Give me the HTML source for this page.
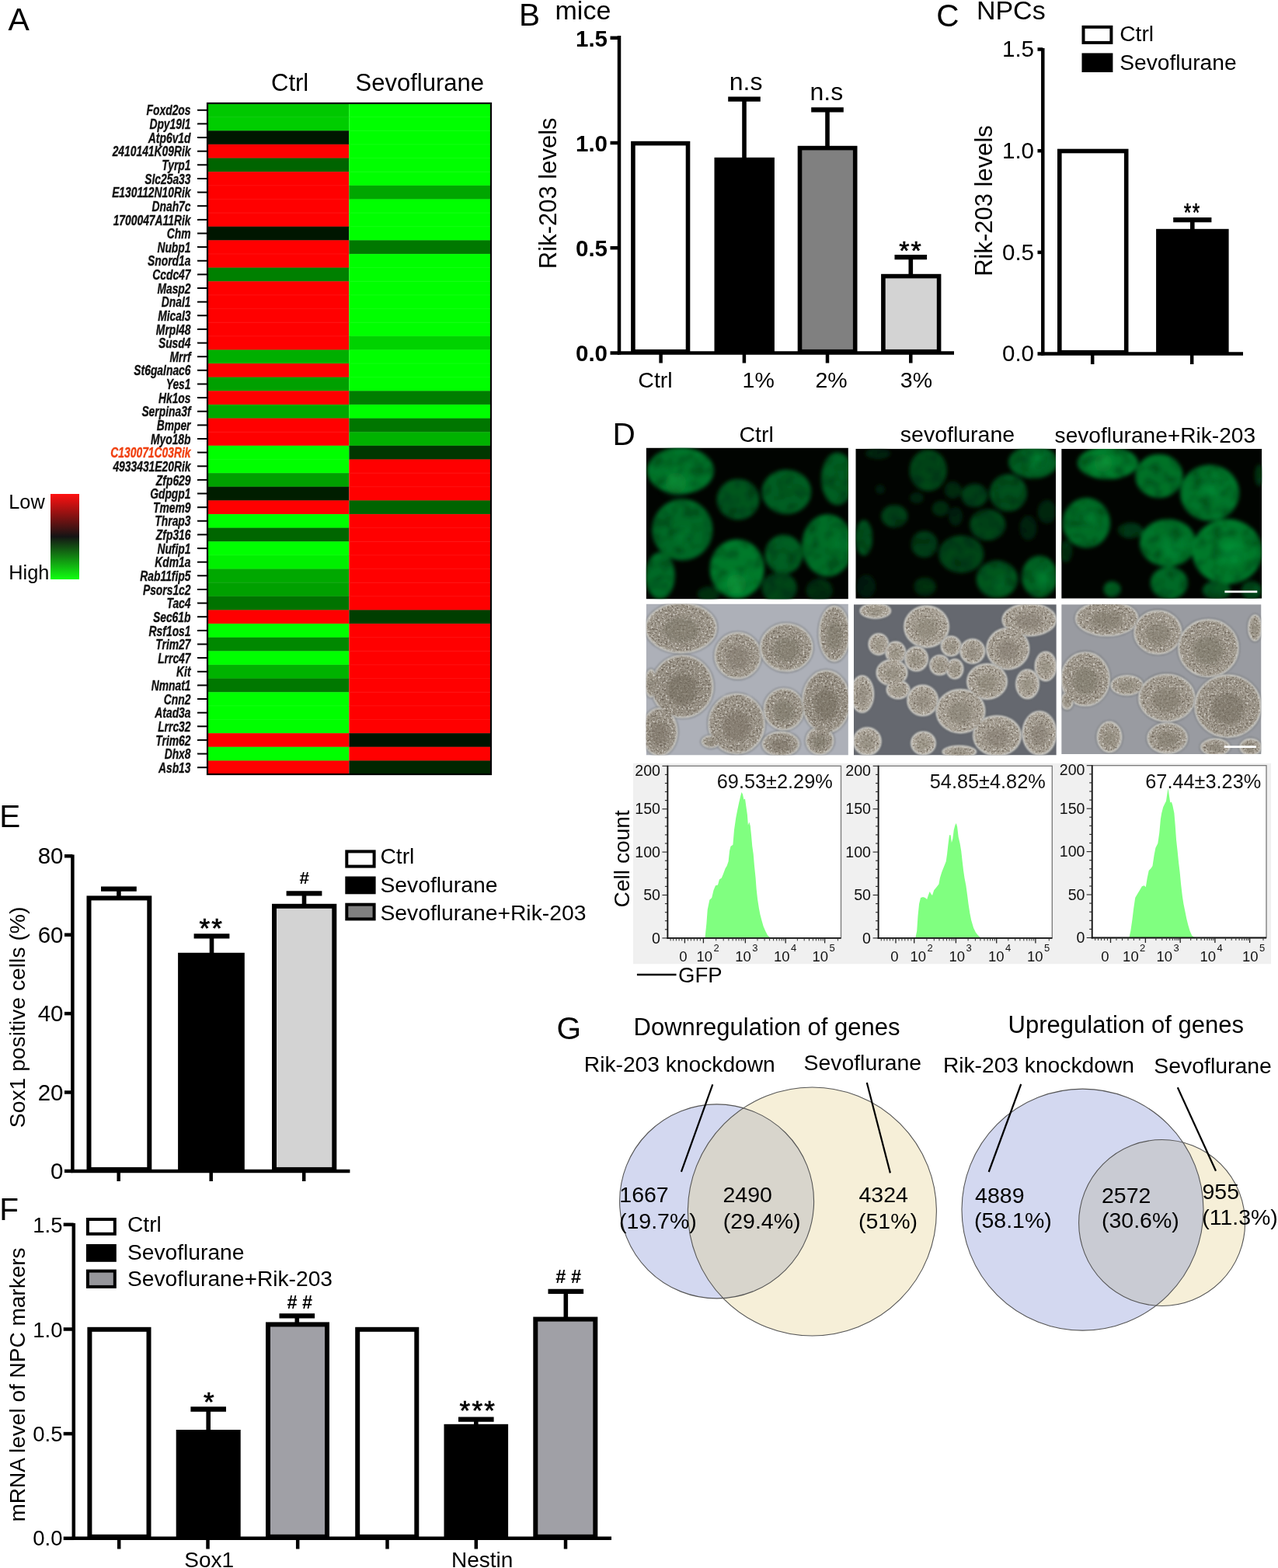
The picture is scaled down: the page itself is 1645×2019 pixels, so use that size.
<!DOCTYPE html>
<html><head><meta charset="utf-8"><title>Figure</title><style>html,body{margin:0;padding:0;background:#fff;}svg{display:block;}</style></head><body>
<svg width="1645" height="2019" viewBox="0 0 1645 2019" font-family='"Liberation Sans", Arial, sans-serif'>
<rect x="0.0" y="0.0" width="1645.0" height="2019.0" fill="#fff" stroke="none" stroke-width="0" />
<text x="10.5" y="38.7" font-size="41" text-anchor="start" font-weight="normal" font-style="normal" fill="#000" >A</text>
<text x="349.0" y="117.0" font-size="31" text-anchor="start" font-weight="normal" font-style="normal" fill="#000" >Ctrl</text>
<text x="457.5" y="117.0" font-size="31" text-anchor="start" font-weight="normal" font-style="normal" fill="#000" >Sevoflurane</text>
<rect x="267.0" y="133.00" width="182.30" height="18.23" fill="rgb(0,200,0)"/>
<rect x="449.3" y="133.00" width="182.70" height="18.23" fill="#00ff00"/>
<rect x="267.0" y="150.63" width="182.30" height="18.23" fill="rgb(0,205,0)"/>
<rect x="449.3" y="150.63" width="182.70" height="18.23" fill="#00ff00"/>
<rect x="267.0" y="168.27" width="182.30" height="18.23" fill="rgb(0,22,0)"/>
<rect x="449.3" y="168.27" width="182.70" height="18.23" fill="#00ff00"/>
<rect x="267.0" y="185.90" width="182.30" height="18.23" fill="#ff0000"/>
<rect x="449.3" y="185.90" width="182.70" height="18.23" fill="#00ff00"/>
<rect x="267.0" y="203.53" width="182.30" height="18.23" fill="rgb(0,100,0)"/>
<rect x="449.3" y="203.53" width="182.70" height="18.23" fill="#00ff00"/>
<rect x="267.0" y="221.16" width="182.30" height="18.23" fill="#ff0000"/>
<rect x="449.3" y="221.16" width="182.70" height="18.23" fill="#00ff00"/>
<rect x="267.0" y="238.80" width="182.30" height="18.23" fill="#ff0000"/>
<rect x="449.3" y="238.80" width="182.70" height="18.23" fill="rgb(0,166,0)"/>
<rect x="267.0" y="256.43" width="182.30" height="18.23" fill="#ff0000"/>
<rect x="449.3" y="256.43" width="182.70" height="18.23" fill="#00ff00"/>
<rect x="267.0" y="274.06" width="182.30" height="18.23" fill="#ff0000"/>
<rect x="449.3" y="274.06" width="182.70" height="18.23" fill="#00ff00"/>
<rect x="267.0" y="291.69" width="182.30" height="18.23" fill="rgb(0,22,0)"/>
<rect x="449.3" y="291.69" width="182.70" height="18.23" fill="#00ff00"/>
<rect x="267.0" y="309.33" width="182.30" height="18.23" fill="#ff0000"/>
<rect x="449.3" y="309.33" width="182.70" height="18.23" fill="rgb(0,120,0)"/>
<rect x="267.0" y="326.96" width="182.30" height="18.23" fill="#ff0000"/>
<rect x="449.3" y="326.96" width="182.70" height="18.23" fill="#00ff00"/>
<rect x="267.0" y="344.59" width="182.30" height="18.23" fill="rgb(0,128,0)"/>
<rect x="449.3" y="344.59" width="182.70" height="18.23" fill="#00ff00"/>
<rect x="267.0" y="362.22" width="182.30" height="18.23" fill="#ff0000"/>
<rect x="449.3" y="362.22" width="182.70" height="18.23" fill="#00ff00"/>
<rect x="267.0" y="379.86" width="182.30" height="18.23" fill="#ff0000"/>
<rect x="449.3" y="379.86" width="182.70" height="18.23" fill="#00ff00"/>
<rect x="267.0" y="397.49" width="182.30" height="18.23" fill="#ff0000"/>
<rect x="449.3" y="397.49" width="182.70" height="18.23" fill="#00ff00"/>
<rect x="267.0" y="415.12" width="182.30" height="18.23" fill="#ff0000"/>
<rect x="449.3" y="415.12" width="182.70" height="18.23" fill="#00ff00"/>
<rect x="267.0" y="432.76" width="182.30" height="18.23" fill="#ff0000"/>
<rect x="449.3" y="432.76" width="182.70" height="18.23" fill="rgb(0,210,0)"/>
<rect x="267.0" y="450.39" width="182.30" height="18.23" fill="rgb(0,175,0)"/>
<rect x="449.3" y="450.39" width="182.70" height="18.23" fill="#00ff00"/>
<rect x="267.0" y="468.02" width="182.30" height="18.23" fill="#ff0000"/>
<rect x="449.3" y="468.02" width="182.70" height="18.23" fill="#00ff00"/>
<rect x="267.0" y="485.65" width="182.30" height="18.23" fill="rgb(0,160,0)"/>
<rect x="449.3" y="485.65" width="182.70" height="18.23" fill="#00ff00"/>
<rect x="267.0" y="503.29" width="182.30" height="18.23" fill="#ff0000"/>
<rect x="449.3" y="503.29" width="182.70" height="18.23" fill="rgb(0,125,0)"/>
<rect x="267.0" y="520.92" width="182.30" height="18.23" fill="rgb(0,168,0)"/>
<rect x="449.3" y="520.92" width="182.70" height="18.23" fill="#00ff00"/>
<rect x="267.0" y="538.55" width="182.30" height="18.23" fill="#ff0000"/>
<rect x="449.3" y="538.55" width="182.70" height="18.23" fill="rgb(0,118,0)"/>
<rect x="267.0" y="556.18" width="182.30" height="18.23" fill="#ff0000"/>
<rect x="449.3" y="556.18" width="182.70" height="18.23" fill="rgb(0,178,0)"/>
<rect x="267.0" y="573.82" width="182.30" height="18.23" fill="#00ff00"/>
<rect x="449.3" y="573.82" width="182.70" height="18.23" fill="rgb(0,55,0)"/>
<rect x="267.0" y="591.45" width="182.30" height="18.23" fill="#00ff00"/>
<rect x="449.3" y="591.45" width="182.70" height="18.23" fill="#ff0000"/>
<rect x="267.0" y="609.08" width="182.30" height="18.23" fill="rgb(0,160,0)"/>
<rect x="449.3" y="609.08" width="182.70" height="18.23" fill="#ff0000"/>
<rect x="267.0" y="626.71" width="182.30" height="18.23" fill="rgb(0,30,0)"/>
<rect x="449.3" y="626.71" width="182.70" height="18.23" fill="#ff0000"/>
<rect x="267.0" y="644.35" width="182.30" height="18.23" fill="#ff0000"/>
<rect x="449.3" y="644.35" width="182.70" height="18.23" fill="rgb(0,100,0)"/>
<rect x="267.0" y="661.98" width="182.30" height="18.23" fill="#00ff00"/>
<rect x="449.3" y="661.98" width="182.70" height="18.23" fill="#ff0000"/>
<rect x="267.0" y="679.61" width="182.30" height="18.23" fill="rgb(0,102,0)"/>
<rect x="449.3" y="679.61" width="182.70" height="18.23" fill="#ff0000"/>
<rect x="267.0" y="697.24" width="182.30" height="18.23" fill="#00ff00"/>
<rect x="449.3" y="697.24" width="182.70" height="18.23" fill="#ff0000"/>
<rect x="267.0" y="714.88" width="182.30" height="18.23" fill="rgb(0,240,0)"/>
<rect x="449.3" y="714.88" width="182.70" height="18.23" fill="#ff0000"/>
<rect x="267.0" y="732.51" width="182.30" height="18.23" fill="rgb(0,168,0)"/>
<rect x="449.3" y="732.51" width="182.70" height="18.23" fill="#ff0000"/>
<rect x="267.0" y="750.14" width="182.30" height="18.23" fill="rgb(0,160,0)"/>
<rect x="449.3" y="750.14" width="182.70" height="18.23" fill="#ff0000"/>
<rect x="267.0" y="767.78" width="182.30" height="18.23" fill="rgb(0,115,0)"/>
<rect x="449.3" y="767.78" width="182.70" height="18.23" fill="#ff0000"/>
<rect x="267.0" y="785.41" width="182.30" height="18.23" fill="#ff0000"/>
<rect x="449.3" y="785.41" width="182.70" height="18.23" fill="rgb(0,62,0)"/>
<rect x="267.0" y="803.04" width="182.30" height="18.23" fill="#00ff00"/>
<rect x="449.3" y="803.04" width="182.70" height="18.23" fill="#ff0000"/>
<rect x="267.0" y="820.67" width="182.30" height="18.23" fill="rgb(0,136,0)"/>
<rect x="449.3" y="820.67" width="182.70" height="18.23" fill="#ff0000"/>
<rect x="267.0" y="838.31" width="182.30" height="18.23" fill="#00ff00"/>
<rect x="449.3" y="838.31" width="182.70" height="18.23" fill="#ff0000"/>
<rect x="267.0" y="855.94" width="182.30" height="18.23" fill="rgb(0,178,0)"/>
<rect x="449.3" y="855.94" width="182.70" height="18.23" fill="#ff0000"/>
<rect x="267.0" y="873.57" width="182.30" height="18.23" fill="rgb(0,120,0)"/>
<rect x="449.3" y="873.57" width="182.70" height="18.23" fill="#ff0000"/>
<rect x="267.0" y="891.20" width="182.30" height="18.23" fill="#00ff00"/>
<rect x="449.3" y="891.20" width="182.70" height="18.23" fill="#ff0000"/>
<rect x="267.0" y="908.84" width="182.30" height="18.23" fill="#00ff00"/>
<rect x="449.3" y="908.84" width="182.70" height="18.23" fill="#ff0000"/>
<rect x="267.0" y="926.47" width="182.30" height="18.23" fill="#00ff00"/>
<rect x="449.3" y="926.47" width="182.70" height="18.23" fill="#ff0000"/>
<rect x="267.0" y="944.10" width="182.30" height="18.23" fill="#ff0000"/>
<rect x="449.3" y="944.10" width="182.70" height="18.23" fill="rgb(0,20,0)"/>
<rect x="267.0" y="961.73" width="182.30" height="18.23" fill="#00ff00"/>
<rect x="449.3" y="961.73" width="182.70" height="18.23" fill="#ff0000"/>
<rect x="267.0" y="979.37" width="182.30" height="18.23" fill="#ff0000"/>
<rect x="449.3" y="979.37" width="182.70" height="18.23" fill="rgb(0,38,0)"/>
<line x1="267.0" y1="150.63" x2="632.0" y2="150.63" stroke="#fff" stroke-opacity="0.07" stroke-width="1"/>
<line x1="267.0" y1="168.27" x2="632.0" y2="168.27" stroke="#fff" stroke-opacity="0.07" stroke-width="1"/>
<line x1="267.0" y1="185.90" x2="632.0" y2="185.90" stroke="#fff" stroke-opacity="0.07" stroke-width="1"/>
<line x1="267.0" y1="203.53" x2="632.0" y2="203.53" stroke="#fff" stroke-opacity="0.07" stroke-width="1"/>
<line x1="267.0" y1="221.16" x2="632.0" y2="221.16" stroke="#fff" stroke-opacity="0.07" stroke-width="1"/>
<line x1="267.0" y1="238.80" x2="632.0" y2="238.80" stroke="#fff" stroke-opacity="0.07" stroke-width="1"/>
<line x1="267.0" y1="256.43" x2="632.0" y2="256.43" stroke="#fff" stroke-opacity="0.07" stroke-width="1"/>
<line x1="267.0" y1="274.06" x2="632.0" y2="274.06" stroke="#fff" stroke-opacity="0.07" stroke-width="1"/>
<line x1="267.0" y1="291.69" x2="632.0" y2="291.69" stroke="#fff" stroke-opacity="0.07" stroke-width="1"/>
<line x1="267.0" y1="309.33" x2="632.0" y2="309.33" stroke="#fff" stroke-opacity="0.07" stroke-width="1"/>
<line x1="267.0" y1="326.96" x2="632.0" y2="326.96" stroke="#fff" stroke-opacity="0.07" stroke-width="1"/>
<line x1="267.0" y1="344.59" x2="632.0" y2="344.59" stroke="#fff" stroke-opacity="0.07" stroke-width="1"/>
<line x1="267.0" y1="362.22" x2="632.0" y2="362.22" stroke="#fff" stroke-opacity="0.07" stroke-width="1"/>
<line x1="267.0" y1="379.86" x2="632.0" y2="379.86" stroke="#fff" stroke-opacity="0.07" stroke-width="1"/>
<line x1="267.0" y1="397.49" x2="632.0" y2="397.49" stroke="#fff" stroke-opacity="0.07" stroke-width="1"/>
<line x1="267.0" y1="415.12" x2="632.0" y2="415.12" stroke="#fff" stroke-opacity="0.07" stroke-width="1"/>
<line x1="267.0" y1="432.76" x2="632.0" y2="432.76" stroke="#fff" stroke-opacity="0.07" stroke-width="1"/>
<line x1="267.0" y1="450.39" x2="632.0" y2="450.39" stroke="#fff" stroke-opacity="0.07" stroke-width="1"/>
<line x1="267.0" y1="468.02" x2="632.0" y2="468.02" stroke="#fff" stroke-opacity="0.07" stroke-width="1"/>
<line x1="267.0" y1="485.65" x2="632.0" y2="485.65" stroke="#fff" stroke-opacity="0.07" stroke-width="1"/>
<line x1="267.0" y1="503.29" x2="632.0" y2="503.29" stroke="#fff" stroke-opacity="0.07" stroke-width="1"/>
<line x1="267.0" y1="520.92" x2="632.0" y2="520.92" stroke="#fff" stroke-opacity="0.07" stroke-width="1"/>
<line x1="267.0" y1="538.55" x2="632.0" y2="538.55" stroke="#fff" stroke-opacity="0.07" stroke-width="1"/>
<line x1="267.0" y1="556.18" x2="632.0" y2="556.18" stroke="#fff" stroke-opacity="0.07" stroke-width="1"/>
<line x1="267.0" y1="573.82" x2="632.0" y2="573.82" stroke="#fff" stroke-opacity="0.07" stroke-width="1"/>
<line x1="267.0" y1="591.45" x2="632.0" y2="591.45" stroke="#fff" stroke-opacity="0.07" stroke-width="1"/>
<line x1="267.0" y1="609.08" x2="632.0" y2="609.08" stroke="#fff" stroke-opacity="0.07" stroke-width="1"/>
<line x1="267.0" y1="626.71" x2="632.0" y2="626.71" stroke="#fff" stroke-opacity="0.07" stroke-width="1"/>
<line x1="267.0" y1="644.35" x2="632.0" y2="644.35" stroke="#fff" stroke-opacity="0.07" stroke-width="1"/>
<line x1="267.0" y1="661.98" x2="632.0" y2="661.98" stroke="#fff" stroke-opacity="0.07" stroke-width="1"/>
<line x1="267.0" y1="679.61" x2="632.0" y2="679.61" stroke="#fff" stroke-opacity="0.07" stroke-width="1"/>
<line x1="267.0" y1="697.24" x2="632.0" y2="697.24" stroke="#fff" stroke-opacity="0.07" stroke-width="1"/>
<line x1="267.0" y1="714.88" x2="632.0" y2="714.88" stroke="#fff" stroke-opacity="0.07" stroke-width="1"/>
<line x1="267.0" y1="732.51" x2="632.0" y2="732.51" stroke="#fff" stroke-opacity="0.07" stroke-width="1"/>
<line x1="267.0" y1="750.14" x2="632.0" y2="750.14" stroke="#fff" stroke-opacity="0.07" stroke-width="1"/>
<line x1="267.0" y1="767.78" x2="632.0" y2="767.78" stroke="#fff" stroke-opacity="0.07" stroke-width="1"/>
<line x1="267.0" y1="785.41" x2="632.0" y2="785.41" stroke="#fff" stroke-opacity="0.07" stroke-width="1"/>
<line x1="267.0" y1="803.04" x2="632.0" y2="803.04" stroke="#fff" stroke-opacity="0.07" stroke-width="1"/>
<line x1="267.0" y1="820.67" x2="632.0" y2="820.67" stroke="#fff" stroke-opacity="0.07" stroke-width="1"/>
<line x1="267.0" y1="838.31" x2="632.0" y2="838.31" stroke="#fff" stroke-opacity="0.07" stroke-width="1"/>
<line x1="267.0" y1="855.94" x2="632.0" y2="855.94" stroke="#fff" stroke-opacity="0.07" stroke-width="1"/>
<line x1="267.0" y1="873.57" x2="632.0" y2="873.57" stroke="#fff" stroke-opacity="0.07" stroke-width="1"/>
<line x1="267.0" y1="891.20" x2="632.0" y2="891.20" stroke="#fff" stroke-opacity="0.07" stroke-width="1"/>
<line x1="267.0" y1="908.84" x2="632.0" y2="908.84" stroke="#fff" stroke-opacity="0.07" stroke-width="1"/>
<line x1="267.0" y1="926.47" x2="632.0" y2="926.47" stroke="#fff" stroke-opacity="0.07" stroke-width="1"/>
<line x1="267.0" y1="944.10" x2="632.0" y2="944.10" stroke="#fff" stroke-opacity="0.07" stroke-width="1"/>
<line x1="267.0" y1="961.73" x2="632.0" y2="961.73" stroke="#fff" stroke-opacity="0.07" stroke-width="1"/>
<line x1="267.0" y1="979.37" x2="632.0" y2="979.37" stroke="#fff" stroke-opacity="0.07" stroke-width="1"/>
<rect x="267.0" y="133.0" width="365.0" height="864.0" fill="none" stroke="#000" stroke-width="2.2" />
<g font-weight="bold" font-style="italic">
<line x1="254.0" y1="141.8" x2="266.0" y2="141.8" stroke="#000" stroke-width="2" />
<text transform="translate(245.5,148.4) scale(0.745,1)" font-size="18.6" text-anchor="end" fill="#111" stroke="#111" stroke-width="0.35">Foxd2os</text>
<line x1="254.0" y1="159.4" x2="266.0" y2="159.4" stroke="#000" stroke-width="2" />
<text transform="translate(245.5,166.0) scale(0.745,1)" font-size="18.6" text-anchor="end" fill="#111" stroke="#111" stroke-width="0.35">Dpy19l1</text>
<line x1="254.0" y1="177.1" x2="266.0" y2="177.1" stroke="#000" stroke-width="2" />
<text transform="translate(245.5,183.7) scale(0.745,1)" font-size="18.6" text-anchor="end" fill="#111" stroke="#111" stroke-width="0.35">Atp6v1d</text>
<line x1="254.0" y1="194.7" x2="266.0" y2="194.7" stroke="#000" stroke-width="2" />
<text transform="translate(245.5,201.3) scale(0.745,1)" font-size="18.6" text-anchor="end" fill="#111" stroke="#111" stroke-width="0.35">2410141K09Rik</text>
<line x1="254.0" y1="212.3" x2="266.0" y2="212.3" stroke="#000" stroke-width="2" />
<text transform="translate(245.5,218.9) scale(0.745,1)" font-size="18.6" text-anchor="end" fill="#111" stroke="#111" stroke-width="0.35">Tyrp1</text>
<line x1="254.0" y1="230.0" x2="266.0" y2="230.0" stroke="#000" stroke-width="2" />
<text transform="translate(245.5,236.6) scale(0.745,1)" font-size="18.6" text-anchor="end" fill="#111" stroke="#111" stroke-width="0.35">Slc25a33</text>
<line x1="254.0" y1="247.6" x2="266.0" y2="247.6" stroke="#000" stroke-width="2" />
<text transform="translate(245.5,254.2) scale(0.745,1)" font-size="18.6" text-anchor="end" fill="#111" stroke="#111" stroke-width="0.35">E130112N10Rik</text>
<line x1="254.0" y1="265.2" x2="266.0" y2="265.2" stroke="#000" stroke-width="2" />
<text transform="translate(245.5,271.8) scale(0.745,1)" font-size="18.6" text-anchor="end" fill="#111" stroke="#111" stroke-width="0.35">Dnah7c</text>
<line x1="254.0" y1="282.9" x2="266.0" y2="282.9" stroke="#000" stroke-width="2" />
<text transform="translate(245.5,289.5) scale(0.745,1)" font-size="18.6" text-anchor="end" fill="#111" stroke="#111" stroke-width="0.35">1700047A11Rik</text>
<line x1="254.0" y1="300.5" x2="266.0" y2="300.5" stroke="#000" stroke-width="2" />
<text transform="translate(245.5,307.1) scale(0.745,1)" font-size="18.6" text-anchor="end" fill="#111" stroke="#111" stroke-width="0.35">Chm</text>
<line x1="254.0" y1="318.1" x2="266.0" y2="318.1" stroke="#000" stroke-width="2" />
<text transform="translate(245.5,324.7) scale(0.745,1)" font-size="18.6" text-anchor="end" fill="#111" stroke="#111" stroke-width="0.35">Nubp1</text>
<line x1="254.0" y1="335.8" x2="266.0" y2="335.8" stroke="#000" stroke-width="2" />
<text transform="translate(245.5,342.4) scale(0.745,1)" font-size="18.6" text-anchor="end" fill="#111" stroke="#111" stroke-width="0.35">Snord1a</text>
<line x1="254.0" y1="353.4" x2="266.0" y2="353.4" stroke="#000" stroke-width="2" />
<text transform="translate(245.5,360.0) scale(0.745,1)" font-size="18.6" text-anchor="end" fill="#111" stroke="#111" stroke-width="0.35">Ccdc47</text>
<line x1="254.0" y1="371.0" x2="266.0" y2="371.0" stroke="#000" stroke-width="2" />
<text transform="translate(245.5,377.6) scale(0.745,1)" font-size="18.6" text-anchor="end" fill="#111" stroke="#111" stroke-width="0.35">Masp2</text>
<line x1="254.0" y1="388.7" x2="266.0" y2="388.7" stroke="#000" stroke-width="2" />
<text transform="translate(245.5,395.3) scale(0.745,1)" font-size="18.6" text-anchor="end" fill="#111" stroke="#111" stroke-width="0.35">Dnal1</text>
<line x1="254.0" y1="406.3" x2="266.0" y2="406.3" stroke="#000" stroke-width="2" />
<text transform="translate(245.5,412.9) scale(0.745,1)" font-size="18.6" text-anchor="end" fill="#111" stroke="#111" stroke-width="0.35">Mical3</text>
<line x1="254.0" y1="423.9" x2="266.0" y2="423.9" stroke="#000" stroke-width="2" />
<text transform="translate(245.5,430.5) scale(0.745,1)" font-size="18.6" text-anchor="end" fill="#111" stroke="#111" stroke-width="0.35">Mrpl48</text>
<line x1="254.0" y1="441.6" x2="266.0" y2="441.6" stroke="#000" stroke-width="2" />
<text transform="translate(245.5,448.2) scale(0.745,1)" font-size="18.6" text-anchor="end" fill="#111" stroke="#111" stroke-width="0.35">Susd4</text>
<line x1="254.0" y1="459.2" x2="266.0" y2="459.2" stroke="#000" stroke-width="2" />
<text transform="translate(245.5,465.8) scale(0.745,1)" font-size="18.6" text-anchor="end" fill="#111" stroke="#111" stroke-width="0.35">Mrrf</text>
<line x1="254.0" y1="476.8" x2="266.0" y2="476.8" stroke="#000" stroke-width="2" />
<text transform="translate(245.5,483.4) scale(0.745,1)" font-size="18.6" text-anchor="end" fill="#111" stroke="#111" stroke-width="0.35">St6galnac6</text>
<line x1="254.0" y1="494.5" x2="266.0" y2="494.5" stroke="#000" stroke-width="2" />
<text transform="translate(245.5,501.1) scale(0.745,1)" font-size="18.6" text-anchor="end" fill="#111" stroke="#111" stroke-width="0.35">Yes1</text>
<line x1="254.0" y1="512.1" x2="266.0" y2="512.1" stroke="#000" stroke-width="2" />
<text transform="translate(245.5,518.7) scale(0.745,1)" font-size="18.6" text-anchor="end" fill="#111" stroke="#111" stroke-width="0.35">Hk1os</text>
<line x1="254.0" y1="529.7" x2="266.0" y2="529.7" stroke="#000" stroke-width="2" />
<text transform="translate(245.5,536.3) scale(0.745,1)" font-size="18.6" text-anchor="end" fill="#111" stroke="#111" stroke-width="0.35">Serpina3f</text>
<line x1="254.0" y1="547.4" x2="266.0" y2="547.4" stroke="#000" stroke-width="2" />
<text transform="translate(245.5,554.0) scale(0.745,1)" font-size="18.6" text-anchor="end" fill="#111" stroke="#111" stroke-width="0.35">Bmper</text>
<line x1="254.0" y1="565.0" x2="266.0" y2="565.0" stroke="#000" stroke-width="2" />
<text transform="translate(245.5,571.6) scale(0.745,1)" font-size="18.6" text-anchor="end" fill="#111" stroke="#111" stroke-width="0.35">Myo18b</text>
<line x1="254.0" y1="582.6" x2="266.0" y2="582.6" stroke="#000" stroke-width="2" />
<text transform="translate(245.5,589.2) scale(0.745,1)" font-size="18.6" text-anchor="end" fill="#f04010" stroke="#f04010" stroke-width="0.35">C130071C03Rik</text>
<line x1="254.0" y1="600.3" x2="266.0" y2="600.3" stroke="#000" stroke-width="2" />
<text transform="translate(245.5,606.9) scale(0.745,1)" font-size="18.6" text-anchor="end" fill="#111" stroke="#111" stroke-width="0.35">4933431E20Rik</text>
<line x1="254.0" y1="617.9" x2="266.0" y2="617.9" stroke="#000" stroke-width="2" />
<text transform="translate(245.5,624.5) scale(0.745,1)" font-size="18.6" text-anchor="end" fill="#111" stroke="#111" stroke-width="0.35">Zfp629</text>
<line x1="254.0" y1="635.5" x2="266.0" y2="635.5" stroke="#000" stroke-width="2" />
<text transform="translate(245.5,642.1) scale(0.745,1)" font-size="18.6" text-anchor="end" fill="#111" stroke="#111" stroke-width="0.35">Gdpgp1</text>
<line x1="254.0" y1="653.2" x2="266.0" y2="653.2" stroke="#000" stroke-width="2" />
<text transform="translate(245.5,659.8) scale(0.745,1)" font-size="18.6" text-anchor="end" fill="#111" stroke="#111" stroke-width="0.35">Tmem9</text>
<line x1="254.0" y1="670.8" x2="266.0" y2="670.8" stroke="#000" stroke-width="2" />
<text transform="translate(245.5,677.4) scale(0.745,1)" font-size="18.6" text-anchor="end" fill="#111" stroke="#111" stroke-width="0.35">Thrap3</text>
<line x1="254.0" y1="688.4" x2="266.0" y2="688.4" stroke="#000" stroke-width="2" />
<text transform="translate(245.5,695.0) scale(0.745,1)" font-size="18.6" text-anchor="end" fill="#111" stroke="#111" stroke-width="0.35">Zfp316</text>
<line x1="254.0" y1="706.1" x2="266.0" y2="706.1" stroke="#000" stroke-width="2" />
<text transform="translate(245.5,712.7) scale(0.745,1)" font-size="18.6" text-anchor="end" fill="#111" stroke="#111" stroke-width="0.35">Nufip1</text>
<line x1="254.0" y1="723.7" x2="266.0" y2="723.7" stroke="#000" stroke-width="2" />
<text transform="translate(245.5,730.3) scale(0.745,1)" font-size="18.6" text-anchor="end" fill="#111" stroke="#111" stroke-width="0.35">Kdm1a</text>
<line x1="254.0" y1="741.3" x2="266.0" y2="741.3" stroke="#000" stroke-width="2" />
<text transform="translate(245.5,747.9) scale(0.745,1)" font-size="18.6" text-anchor="end" fill="#111" stroke="#111" stroke-width="0.35">Rab11fip5</text>
<line x1="254.0" y1="759.0" x2="266.0" y2="759.0" stroke="#000" stroke-width="2" />
<text transform="translate(245.5,765.6) scale(0.745,1)" font-size="18.6" text-anchor="end" fill="#111" stroke="#111" stroke-width="0.35">Psors1c2</text>
<line x1="254.0" y1="776.6" x2="266.0" y2="776.6" stroke="#000" stroke-width="2" />
<text transform="translate(245.5,783.2) scale(0.745,1)" font-size="18.6" text-anchor="end" fill="#111" stroke="#111" stroke-width="0.35">Tac4</text>
<line x1="254.0" y1="794.2" x2="266.0" y2="794.2" stroke="#000" stroke-width="2" />
<text transform="translate(245.5,800.8) scale(0.745,1)" font-size="18.6" text-anchor="end" fill="#111" stroke="#111" stroke-width="0.35">Sec61b</text>
<line x1="254.0" y1="811.9" x2="266.0" y2="811.9" stroke="#000" stroke-width="2" />
<text transform="translate(245.5,818.5) scale(0.745,1)" font-size="18.6" text-anchor="end" fill="#111" stroke="#111" stroke-width="0.35">Rsf1os1</text>
<line x1="254.0" y1="829.5" x2="266.0" y2="829.5" stroke="#000" stroke-width="2" />
<text transform="translate(245.5,836.1) scale(0.745,1)" font-size="18.6" text-anchor="end" fill="#111" stroke="#111" stroke-width="0.35">Trim27</text>
<line x1="254.0" y1="847.1" x2="266.0" y2="847.1" stroke="#000" stroke-width="2" />
<text transform="translate(245.5,853.7) scale(0.745,1)" font-size="18.6" text-anchor="end" fill="#111" stroke="#111" stroke-width="0.35">Lrrc47</text>
<line x1="254.0" y1="864.8" x2="266.0" y2="864.8" stroke="#000" stroke-width="2" />
<text transform="translate(245.5,871.4) scale(0.745,1)" font-size="18.6" text-anchor="end" fill="#111" stroke="#111" stroke-width="0.35">Kit</text>
<line x1="254.0" y1="882.4" x2="266.0" y2="882.4" stroke="#000" stroke-width="2" />
<text transform="translate(245.5,889.0) scale(0.745,1)" font-size="18.6" text-anchor="end" fill="#111" stroke="#111" stroke-width="0.35">Nmnat1</text>
<line x1="254.0" y1="900.0" x2="266.0" y2="900.0" stroke="#000" stroke-width="2" />
<text transform="translate(245.5,906.6) scale(0.745,1)" font-size="18.6" text-anchor="end" fill="#111" stroke="#111" stroke-width="0.35">Cnn2</text>
<line x1="254.0" y1="917.7" x2="266.0" y2="917.7" stroke="#000" stroke-width="2" />
<text transform="translate(245.5,924.3) scale(0.745,1)" font-size="18.6" text-anchor="end" fill="#111" stroke="#111" stroke-width="0.35">Atad3a</text>
<line x1="254.0" y1="935.3" x2="266.0" y2="935.3" stroke="#000" stroke-width="2" />
<text transform="translate(245.5,941.9) scale(0.745,1)" font-size="18.6" text-anchor="end" fill="#111" stroke="#111" stroke-width="0.35">Lrrc32</text>
<line x1="254.0" y1="952.9" x2="266.0" y2="952.9" stroke="#000" stroke-width="2" />
<text transform="translate(245.5,959.5) scale(0.745,1)" font-size="18.6" text-anchor="end" fill="#111" stroke="#111" stroke-width="0.35">Trim62</text>
<line x1="254.0" y1="970.6" x2="266.0" y2="970.6" stroke="#000" stroke-width="2" />
<text transform="translate(245.5,977.2) scale(0.745,1)" font-size="18.6" text-anchor="end" fill="#111" stroke="#111" stroke-width="0.35">Dhx8</text>
<line x1="254.0" y1="988.2" x2="266.0" y2="988.2" stroke="#000" stroke-width="2" />
<text transform="translate(245.5,994.8) scale(0.745,1)" font-size="18.6" text-anchor="end" fill="#111" stroke="#111" stroke-width="0.35">Asb13</text>
</g>
<defs><linearGradient id="lg" x1="0" y1="0" x2="0" y2="1"><stop offset="0" stop-color="#ff1010"/><stop offset="0.5" stop-color="#141414"/><stop offset="1" stop-color="#10ff10"/></linearGradient></defs>
<rect x="65.0" y="636.0" width="37.0" height="110.0" fill="url(#lg)" stroke="none" stroke-width="0" />
<text x="11.3" y="654.6" font-size="25.3" text-anchor="start" font-weight="normal" font-style="normal" fill="#000" >Low</text>
<text x="11.3" y="745.8" font-size="25.3" text-anchor="start" font-weight="normal" font-style="normal" fill="#000" >High</text>
<text x="668.0" y="32.9" font-size="40.5" text-anchor="start" font-weight="normal" font-style="normal" fill="#000" >B</text>
<text x="714.5" y="24.8" font-size="34" text-anchor="start" font-weight="normal" font-style="normal" fill="#000" >mice</text>
<rect x="814.9" y="184.6" width="70.6" height="268.1" fill="#fff" stroke="#000" stroke-width="5.6" />
<rect x="922.3" y="205.6" width="71.8" height="247.1" fill="#000" stroke="#000" stroke-width="5.6" />
<rect x="1029.5" y="190.6" width="71.2" height="262.1" fill="#808080" stroke="#000" stroke-width="5.6" />
<rect x="1136.9" y="355.6" width="71.7" height="97.1" fill="#d3d3d3" stroke="#000" stroke-width="5.6" />
<line x1="958.0" y1="127.7" x2="958.0" y2="206.0" stroke="#000" stroke-width="5.6" />
<line x1="937.2" y1="127.7" x2="978.8" y2="127.7" stroke="#000" stroke-width="6.3" />
<line x1="1065.0" y1="141.3" x2="1065.0" y2="191.0" stroke="#000" stroke-width="5.6" />
<line x1="1044.2" y1="141.3" x2="1085.8" y2="141.3" stroke="#000" stroke-width="6.3" />
<line x1="1172.3" y1="331.2" x2="1172.3" y2="356.0" stroke="#000" stroke-width="5.6" />
<line x1="1151.5" y1="331.2" x2="1193.1" y2="331.2" stroke="#000" stroke-width="6.3" />
<line x1="797.0" y1="46.0" x2="797.0" y2="456.5" stroke="#000" stroke-width="4.5" />
<line x1="795.0" y1="454.5" x2="1228.0" y2="454.5" stroke="#000" stroke-width="4.5" />
<line x1="785.5" y1="454.5" x2="797.0" y2="454.5" stroke="#000" stroke-width="4.5" />
<line x1="785.5" y1="319.2" x2="797.0" y2="319.2" stroke="#000" stroke-width="4.5" />
<line x1="785.5" y1="184.0" x2="797.0" y2="184.0" stroke="#000" stroke-width="4.5" />
<line x1="785.5" y1="48.8" x2="797.0" y2="48.8" stroke="#000" stroke-width="4.5" />
<text x="782.0" y="59.5" font-size="29.5" text-anchor="end" font-weight="bold" font-style="normal" fill="#000" >1.5</text>
<text x="782.0" y="194.8" font-size="29.5" text-anchor="end" font-weight="bold" font-style="normal" fill="#000" >1.0</text>
<text x="782.0" y="330.1" font-size="29.5" text-anchor="end" font-weight="bold" font-style="normal" fill="#000" >0.5</text>
<text x="782.0" y="465.3" font-size="29.5" text-anchor="end" font-weight="bold" font-style="normal" fill="#000" >0.0</text>
<line x1="850.6" y1="454.5" x2="850.6" y2="467.5" stroke="#000" stroke-width="4.5" />
<line x1="957.9" y1="454.5" x2="957.9" y2="467.5" stroke="#000" stroke-width="4.5" />
<line x1="1065.0" y1="454.5" x2="1065.0" y2="467.5" stroke="#000" stroke-width="4.5" />
<line x1="1172.3" y1="454.5" x2="1172.3" y2="467.5" stroke="#000" stroke-width="4.5" />
<text x="821.3" y="498.7" font-size="28.5" text-anchor="start" font-weight="normal" font-style="normal" fill="#000" >Ctrl</text>
<text x="955.6" y="498.7" font-size="28.5" text-anchor="start" font-weight="normal" font-style="normal" fill="#000" >1%</text>
<text x="1049.5" y="498.7" font-size="28.5" text-anchor="start" font-weight="normal" font-style="normal" fill="#000" >2%</text>
<text x="1158.8" y="498.7" font-size="28.5" text-anchor="start" font-weight="normal" font-style="normal" fill="#000" >3%</text>
<text x="938.7" y="115.7" font-size="32" text-anchor="start" font-weight="normal" font-style="normal" fill="#000" >n.s</text>
<text x="1042.5" y="129.4" font-size="32" text-anchor="start" font-weight="normal" font-style="normal" fill="#000" >n.s</text>
<text x="1157.2" y="334.2" font-size="34" text-anchor="start" font-weight="normal" font-style="normal" fill="#000" letter-spacing="2" stroke="#000" stroke-width="0.7">**</text>
<text transform="translate(715.5,248.8) rotate(-90)" font-size="31" text-anchor="middle">Rik-203 levels</text>
<text x="1205.3" y="33.5" font-size="40.5" text-anchor="start" font-weight="normal" font-style="normal" fill="#000" >C</text>
<text x="1256.9" y="25.3" font-size="34" text-anchor="start" font-weight="normal" font-style="normal" fill="#000" >NPCs</text>
<rect x="1363.8" y="194.5" width="85.9" height="259.2" fill="#fff" stroke="#000" stroke-width="5.6" />
<rect x="1490.9" y="297.6" width="87.9" height="156.1" fill="#000" stroke="#000" stroke-width="5.6" />
<line x1="1534.8" y1="283.1" x2="1534.8" y2="298.0" stroke="#000" stroke-width="5.6" />
<line x1="1510.2" y1="283.1" x2="1559.4" y2="283.1" stroke="#000" stroke-width="6.3" />
<line x1="1342.3" y1="62.0" x2="1342.3" y2="457.5" stroke="#000" stroke-width="4.5" />
<line x1="1340.3" y1="455.5" x2="1600.0" y2="455.5" stroke="#000" stroke-width="4.5" />
<line x1="1335.5" y1="455.5" x2="1342.3" y2="455.5" stroke="#000" stroke-width="4.5" />
<line x1="1335.5" y1="324.9" x2="1342.3" y2="324.9" stroke="#000" stroke-width="4.5" />
<line x1="1335.5" y1="194.2" x2="1342.3" y2="194.2" stroke="#000" stroke-width="4.5" />
<line x1="1335.5" y1="63.5" x2="1342.3" y2="63.5" stroke="#000" stroke-width="4.5" />
<text x="1331.0" y="73.3" font-size="29.5" text-anchor="end" font-weight="normal" font-style="normal" fill="#000" >1.5</text>
<text x="1331.0" y="204.0" font-size="29.5" text-anchor="end" font-weight="normal" font-style="normal" fill="#000" >1.0</text>
<text x="1331.0" y="334.7" font-size="29.5" text-anchor="end" font-weight="normal" font-style="normal" fill="#000" >0.5</text>
<text x="1331.0" y="465.3" font-size="29.5" text-anchor="end" font-weight="normal" font-style="normal" fill="#000" >0.0</text>
<line x1="1406.2" y1="455.5" x2="1406.2" y2="469.0" stroke="#000" stroke-width="4.5" />
<line x1="1534.2" y1="455.5" x2="1534.2" y2="469.0" stroke="#000" stroke-width="4.5" />
<text transform="translate(1523.8,284.7) scale(0.72,1)" font-size="34" letter-spacing="2.1" stroke="#000" stroke-width="0.6">**</text>
<rect x="1394.5" y="34.8" width="35.9" height="20.1" fill="#fff" stroke="#000" stroke-width="4" />
<rect x="1392.5" y="68.4" width="39.9" height="24.6" fill="#000" stroke="none" stroke-width="0" />
<text x="1441.2" y="53.3" font-size="28.2" text-anchor="start" font-weight="normal" font-style="normal" fill="#000" >Ctrl</text>
<text x="1441.2" y="90.3" font-size="28.2" text-anchor="start" font-weight="normal" font-style="normal" fill="#000" >Sevoflurane</text>
<text transform="translate(1276.5,258.5) rotate(-90)" font-size="31" text-anchor="middle">Rik-203 levels</text>
<text x="788.5" y="572.7" font-size="40.5" text-anchor="start" font-weight="normal" font-style="normal" fill="#000" >D</text>
<text x="951.5" y="569.4" font-size="28.5" text-anchor="start" font-weight="normal" font-style="normal" fill="#000" >Ctrl</text>
<text x="1158.8" y="569.4" font-size="28.5" text-anchor="start" font-weight="normal" font-style="normal" fill="#000" >sevoflurane</text>
<text x="1357.6" y="569.6" font-size="28.1" text-anchor="start" font-weight="normal" font-style="normal" fill="#000" >sevoflurane+Rik-203</text>
<defs><filter id="fb" x="-30%" y="-30%" width="160%" height="160%"><feGaussianBlur stdDeviation="2.6"/></filter><filter id="fb3" x="-50%" y="-50%" width="200%" height="200%"><feGaussianBlur stdDeviation="6"/></filter><filter id="fb2" x="-30%" y="-30%" width="160%" height="160%"><feGaussianBlur stdDeviation="0.9"/></filter><filter id="mott" x="0" y="0" width="100%" height="100%" color-interpolation-filters="sRGB"><feTurbulence type="fractalNoise" baseFrequency="0.075" numOctaves="3" seed="11" result="n"/><feColorMatrix in="n" type="matrix" values="0 0 0 0 0  0 0 0 0 0  0 0 0 0 0  3.2 0 0 0 -1.35" result="d"/><feComposite in="d" in2="SourceAlpha" operator="in"/></filter><filter id="grain" x="0" y="0" width="100%" height="100%" color-interpolation-filters="sRGB"><feTurbulence type="fractalNoise" baseFrequency="0.42" numOctaves="2" seed="5" result="n"/><feColorMatrix in="n" type="matrix" values="0 0 0 0 0.30  0 0 0 0 0.26  0 0 0 0 0.22  2.2 0 0 0 -1.12" result="dark"/><feColorMatrix in="n" type="matrix" values="0 0 0 0 0.95  0 0 0 0 0.94  0 0 0 0 0.92  0 2.3 0 0 -1.2" result="light"/><feMerge result="g"><feMergeNode in="dark"/><feMergeNode in="light"/></feMerge><feGaussianBlur in="g" stdDeviation="0.75" result="gb"/><feComposite in="gb" in2="SourceAlpha" operator="in" result="gi"/><feMerge><feMergeNode in="SourceGraphic"/><feMergeNode in="gi"/></feMerge></filter></defs>
<clipPath id="cf0"><rect x="831.6" y="576.6" width="260.3" height="194.8"/></clipPath>
<g clip-path="url(#cf0)">
<rect x="831.6" y="576.6" width="260.3" height="194.8" fill="#010401" stroke="none" stroke-width="0" />
<g filter="url(#fb)">
<ellipse cx="875.9" cy="606" rx="43" ry="30" fill="rgb(0,116,41)"/>
<ellipse cx="878.3" cy="682.1" rx="39" ry="39.5" fill="rgb(0,106,38)"/>
<ellipse cx="849.7" cy="741.3" rx="19" ry="30" fill="rgb(0,106,38)"/>
<ellipse cx="950" cy="643" rx="27.4" ry="26.2" fill="rgb(0,86,31)"/>
<ellipse cx="1012.4" cy="633.3" rx="31.8" ry="28.6" fill="rgb(0,95,34)"/>
<ellipse cx="1078" cy="616.4" rx="21" ry="34" fill="rgb(0,95,34)"/>
<ellipse cx="948.7" cy="732.4" rx="35" ry="38" fill="rgb(0,122,43)"/>
<ellipse cx="1008.8" cy="713.9" rx="24.2" ry="25.4" fill="rgb(0,95,34)"/>
<ellipse cx="1065.2" cy="702.3" rx="33" ry="40" fill="rgb(0,110,39)"/>
<ellipse cx="1003.2" cy="757" rx="22.5" ry="20" fill="rgb(0,69,24)"/>
<ellipse cx="1054.7" cy="760" rx="17" ry="15" fill="rgb(0,47,17)"/>
<ellipse cx="912" cy="765" rx="14" ry="10" fill="rgb(0,45,16)"/>
<g filter="url(#mott)" opacity="0.26">
<ellipse cx="875.9" cy="606" rx="41.7" ry="29.1" fill="#000"/>
<ellipse cx="878.3" cy="682.1" rx="37.8" ry="38.3" fill="#000"/>
<ellipse cx="849.7" cy="741.3" rx="18.4" ry="29.1" fill="#000"/>
<ellipse cx="950" cy="643" rx="26.6" ry="25.4" fill="#000"/>
<ellipse cx="1012.4" cy="633.3" rx="30.8" ry="27.7" fill="#000"/>
<ellipse cx="1078" cy="616.4" rx="20.4" ry="33.0" fill="#000"/>
<ellipse cx="948.7" cy="732.4" rx="33.9" ry="36.9" fill="#000"/>
<ellipse cx="1008.8" cy="713.9" rx="23.5" ry="24.6" fill="#000"/>
<ellipse cx="1065.2" cy="702.3" rx="32.0" ry="38.8" fill="#000"/>
<ellipse cx="1003.2" cy="757" rx="21.8" ry="19.4" fill="#000"/>
<ellipse cx="1054.7" cy="760" rx="16.5" ry="14.5" fill="#000"/>
<ellipse cx="912" cy="765" rx="13.6" ry="9.7" fill="#000"/>
</g>
</g>
<g filter="url(#fb3)">
<circle cx="870" cy="622" r="14" fill="#10c050" opacity="0.35"/>
<circle cx="948" cy="752" r="13" fill="#10c050" opacity="0.45"/>
<circle cx="880" cy="690" r="10" fill="#10c050" opacity="0.15"/>
<circle cx="1085" cy="700" r="10" fill="#10c050" opacity="0.2"/>
</g>
</g>
<clipPath id="cf1"><rect x="1101.3" y="577.8" width="257.7" height="193.0"/></clipPath>
<g clip-path="url(#cf1)">
<rect x="1101.3" y="577.8" width="257.7" height="193.0" fill="#010401" stroke="none" stroke-width="0" />
<g filter="url(#fb)">
<ellipse cx="1194.7" cy="605.6" rx="24" ry="26.6" fill="rgb(0,71,25)"/>
<ellipse cx="1330" cy="595" rx="32" ry="21" fill="rgb(0,95,34)"/>
<ellipse cx="1297.8" cy="634.6" rx="24" ry="24" fill="rgb(0,81,29)"/>
<ellipse cx="1254.3" cy="637.8" rx="17" ry="15" fill="rgb(0,64,23)"/>
<ellipse cx="1226.6" cy="631" rx="11" ry="11" fill="rgb(0,43,15)"/>
<ellipse cx="1151.2" cy="664.4" rx="17" ry="14.5" fill="rgb(0,64,23)"/>
<ellipse cx="1112" cy="692.6" rx="11" ry="23" fill="rgb(0,81,29)"/>
<ellipse cx="1210.8" cy="654.7" rx="11" ry="10" fill="rgb(0,47,17)"/>
<ellipse cx="1271.2" cy="675.7" rx="23" ry="20" fill="rgb(0,69,24)"/>
<ellipse cx="1189.8" cy="700.7" rx="17" ry="17" fill="rgb(0,62,22)"/>
<ellipse cx="1237.3" cy="713.5" rx="29" ry="24" fill="rgb(0,69,24)"/>
<ellipse cx="1283.3" cy="745.8" rx="26.6" ry="24" fill="rgb(0,86,31)"/>
<ellipse cx="1338" cy="742.5" rx="23" ry="27" fill="rgb(0,99,35)"/>
<ellipse cx="1190.6" cy="755.4" rx="14" ry="12" fill="rgb(0,51,18)"/>
<ellipse cx="1323.5" cy="679.7" rx="11" ry="16" fill="rgb(0,36,13)"/>
<ellipse cx="1347.7" cy="658.8" rx="12" ry="15" fill="rgb(0,40,14)"/>
<ellipse cx="1130" cy="584" rx="16" ry="7" fill="rgb(0,40,14)"/>
<ellipse cx="1115" cy="755" rx="12" ry="15" fill="rgb(0,31,11)"/>
<ellipse cx="1230" cy="665" rx="9" ry="12" fill="rgb(0,36,13)"/>
<ellipse cx="1180" cy="641" rx="9" ry="7" fill="rgb(0,38,13)"/>
<ellipse cx="1133" cy="630" rx="6" ry="6" fill="rgb(0,33,12)"/>
<g filter="url(#mott)" opacity="0.26">
<ellipse cx="1194.7" cy="605.6" rx="23.3" ry="25.8" fill="#000"/>
<ellipse cx="1330" cy="595" rx="31.0" ry="20.4" fill="#000"/>
<ellipse cx="1297.8" cy="634.6" rx="23.3" ry="23.3" fill="#000"/>
<ellipse cx="1254.3" cy="637.8" rx="16.5" ry="14.5" fill="#000"/>
<ellipse cx="1226.6" cy="631" rx="10.7" ry="10.7" fill="#000"/>
<ellipse cx="1151.2" cy="664.4" rx="16.5" ry="14.1" fill="#000"/>
<ellipse cx="1112" cy="692.6" rx="10.7" ry="22.3" fill="#000"/>
<ellipse cx="1210.8" cy="654.7" rx="10.7" ry="9.7" fill="#000"/>
<ellipse cx="1271.2" cy="675.7" rx="22.3" ry="19.4" fill="#000"/>
<ellipse cx="1189.8" cy="700.7" rx="16.5" ry="16.5" fill="#000"/>
<ellipse cx="1237.3" cy="713.5" rx="28.1" ry="23.3" fill="#000"/>
<ellipse cx="1283.3" cy="745.8" rx="25.8" ry="23.3" fill="#000"/>
<ellipse cx="1338" cy="742.5" rx="22.3" ry="26.2" fill="#000"/>
<ellipse cx="1190.6" cy="755.4" rx="13.6" ry="11.6" fill="#000"/>
<ellipse cx="1323.5" cy="679.7" rx="10.7" ry="15.5" fill="#000"/>
<ellipse cx="1347.7" cy="658.8" rx="11.6" ry="14.5" fill="#000"/>
<ellipse cx="1130" cy="584" rx="15.5" ry="6.8" fill="#000"/>
<ellipse cx="1115" cy="755" rx="11.6" ry="14.5" fill="#000"/>
<ellipse cx="1230" cy="665" rx="8.7" ry="11.6" fill="#000"/>
<ellipse cx="1180" cy="641" rx="8.7" ry="6.8" fill="#000"/>
<ellipse cx="1133" cy="630" rx="5.8" ry="5.8" fill="#000"/>
</g>
</g>
<g filter="url(#fb3)">
<circle cx="1335" cy="592" r="12" fill="#10c050" opacity="0.3"/>
<circle cx="1345" cy="745" r="11" fill="#10c050" opacity="0.3"/>
<circle cx="1290" cy="752" r="9" fill="#10c050" opacity="0.2"/>
</g>
</g>
<clipPath id="cf2"><rect x="1366.2" y="577.9" width="258.1" height="192.8"/></clipPath>
<g clip-path="url(#cf2)">
<rect x="1366.2" y="577.9" width="258.1" height="192.8" fill="#010401" stroke="none" stroke-width="0" />
<g filter="url(#fb)">
<ellipse cx="1425.8" cy="596" rx="39" ry="21" fill="rgb(0,122,43)"/>
<ellipse cx="1491.9" cy="612.9" rx="30.6" ry="28.2" fill="rgb(0,114,40)"/>
<ellipse cx="1557.1" cy="634.6" rx="38" ry="36.2" fill="rgb(0,116,41)"/>
<ellipse cx="1398.4" cy="673.3" rx="30.6" ry="32.2" fill="rgb(0,110,39)"/>
<ellipse cx="1503.2" cy="699" rx="36.2" ry="30.6" fill="rgb(0,116,41)"/>
<ellipse cx="1579.7" cy="710.3" rx="45" ry="42" fill="rgb(0,122,43)"/>
<ellipse cx="1504.8" cy="750.6" rx="24" ry="21" fill="rgb(0,106,38)"/>
<ellipse cx="1431.5" cy="758.7" rx="11" ry="10.5" fill="rgb(0,92,33)"/>
<ellipse cx="1566" cy="760" rx="18" ry="12" fill="rgb(0,86,31)"/>
<ellipse cx="1611" cy="760" rx="13" ry="12" fill="rgb(0,75,26)"/>
<ellipse cx="1455" cy="683" rx="16" ry="10" fill="rgb(0,57,20)"/>
<ellipse cx="1372" cy="710" rx="8" ry="14" fill="rgb(0,51,18)"/>
<ellipse cx="1621" cy="612" rx="6" ry="14" fill="rgb(0,51,18)"/>
<g filter="url(#mott)" opacity="0.26">
<ellipse cx="1425.8" cy="596" rx="37.8" ry="20.4" fill="#000"/>
<ellipse cx="1491.9" cy="612.9" rx="29.7" ry="27.4" fill="#000"/>
<ellipse cx="1557.1" cy="634.6" rx="36.9" ry="35.1" fill="#000"/>
<ellipse cx="1398.4" cy="673.3" rx="29.7" ry="31.2" fill="#000"/>
<ellipse cx="1503.2" cy="699" rx="35.1" ry="29.7" fill="#000"/>
<ellipse cx="1579.7" cy="710.3" rx="43.6" ry="40.7" fill="#000"/>
<ellipse cx="1504.8" cy="750.6" rx="23.3" ry="20.4" fill="#000"/>
<ellipse cx="1431.5" cy="758.7" rx="10.7" ry="10.2" fill="#000"/>
<ellipse cx="1566" cy="760" rx="17.5" ry="11.6" fill="#000"/>
<ellipse cx="1611" cy="760" rx="12.6" ry="11.6" fill="#000"/>
<ellipse cx="1455" cy="683" rx="15.5" ry="9.7" fill="#000"/>
<ellipse cx="1372" cy="710" rx="7.8" ry="13.6" fill="#000"/>
<ellipse cx="1621" cy="612" rx="5.8" ry="13.6" fill="#000"/>
</g>
</g>
<g filter="url(#fb3)">
<circle cx="1420" cy="596" r="12" fill="#10c050" opacity="0.35"/>
<circle cx="1585" cy="712" r="16" fill="#10c050" opacity="0.3"/>
<circle cx="1560" cy="628" r="12" fill="#10c050" opacity="0.25"/>
<circle cx="1510" cy="705" r="12" fill="#10c050" opacity="0.25"/>
<circle cx="1400" cy="668" r="10" fill="#10c050" opacity="0.2"/>
</g>
</g>
<line x1="1576.4" y1="761.9" x2="1618.3" y2="761.9" stroke="#fff" stroke-width="2.6" />
<clipPath id="cb0"><rect x="831.6" y="777.6" width="260.3" height="194.9"/></clipPath>
<g clip-path="url(#cb0)">
<rect x="831.6" y="777.6" width="260.3" height="194.9" fill="#adb0b8" stroke="none" stroke-width="0" />
<g filter="url(#fb2)">
<ellipse cx="876.7" cy="808.5" rx="46.8" ry="33.3" fill="#d8d8d4" stroke="#4a4c50" stroke-width="1.3" stroke-opacity="0.75"/>
<ellipse cx="949.7" cy="844.2" rx="30.8" ry="30.8" fill="#d8d8d4" stroke="#4a4c50" stroke-width="1.3" stroke-opacity="0.75"/>
<ellipse cx="1012.2" cy="833.7" rx="34.8" ry="31.8" fill="#d8d8d4" stroke="#4a4c50" stroke-width="1.3" stroke-opacity="0.75"/>
<ellipse cx="1073.9" cy="815.8" rx="20.8" ry="36.8" fill="#d8d8d4" stroke="#4a4c50" stroke-width="1.3" stroke-opacity="0.75"/>
<ellipse cx="878.3" cy="884" rx="40.8" ry="41.4" fill="#d8d8d4" stroke="#4a4c50" stroke-width="1.3" stroke-opacity="0.75"/>
<ellipse cx="849" cy="942.4" rx="23.8" ry="31.8" fill="#d8d8d4" stroke="#4a4c50" stroke-width="1.3" stroke-opacity="0.75"/>
<ellipse cx="948.1" cy="931.9" rx="37.3" ry="39.8" fill="#d8d8d4" stroke="#4a4c50" stroke-width="1.3" stroke-opacity="0.75"/>
<ellipse cx="1009" cy="913.2" rx="26.8" ry="27.8" fill="#d8d8d4" stroke="#4a4c50" stroke-width="1.3" stroke-opacity="0.75"/>
<ellipse cx="1063.4" cy="903.5" rx="31.8" ry="41.4" fill="#d8d8d4" stroke="#4a4c50" stroke-width="1.3" stroke-opacity="0.75"/>
<ellipse cx="1005" cy="958" rx="24.8" ry="16.8" fill="#d8d8d4" stroke="#4a4c50" stroke-width="1.3" stroke-opacity="0.75"/>
<ellipse cx="1055.2" cy="953.8" rx="18.8" ry="18.8" fill="#d8d8d4" stroke="#4a4c50" stroke-width="1.3" stroke-opacity="0.75"/>
<ellipse cx="838" cy="880" rx="8.8" ry="18.8" fill="#d8d8d4" stroke="#4a4c50" stroke-width="1.3" stroke-opacity="0.75"/>
<ellipse cx="915" cy="955" rx="12.8" ry="8.8" fill="#d8d8d4" stroke="#4a4c50" stroke-width="1.3" stroke-opacity="0.75"/>
</g>
<g filter="url(#grain)">
<g filter="url(#fb2)">
<ellipse cx="876.7" cy="808.5" rx="44.4" ry="30.9" fill="rgb(155,148,136)"/>
<ellipse cx="949.7" cy="844.2" rx="28.4" ry="28.4" fill="rgb(157,150,138)"/>
<ellipse cx="1012.2" cy="833.7" rx="32.4" ry="29.4" fill="rgb(155,148,136)"/>
<ellipse cx="1073.9" cy="815.8" rx="18.4" ry="34.4" fill="rgb(155,148,136)"/>
<ellipse cx="878.3" cy="884" rx="38.4" ry="39.0" fill="rgb(150,143,131)"/>
<ellipse cx="849" cy="942.4" rx="21.4" ry="29.4" fill="rgb(154,147,135)"/>
<ellipse cx="948.1" cy="931.9" rx="34.9" ry="37.4" fill="rgb(154,147,135)"/>
<ellipse cx="1009" cy="913.2" rx="24.4" ry="25.4" fill="rgb(155,148,136)"/>
<ellipse cx="1063.4" cy="903.5" rx="29.4" ry="39.0" fill="rgb(150,143,131)"/>
<ellipse cx="1005" cy="958" rx="22.4" ry="14.4" fill="rgb(154,147,135)"/>
<ellipse cx="1055.2" cy="953.8" rx="16.4" ry="16.4" fill="rgb(155,148,136)"/>
<ellipse cx="838" cy="880" rx="6.4" ry="16.4" fill="rgb(158,151,139)"/>
<ellipse cx="915" cy="955" rx="10.4" ry="6.4" fill="rgb(158,151,139)"/>
</g>
</g>
<g filter="url(#fb)">
<ellipse cx="876.7" cy="811.1" rx="23.0" ry="16.2" fill="rgb(121,115,101)" opacity="0.55"/>
<ellipse cx="949.7" cy="846.6" rx="15.0" ry="15.0" fill="rgb(127,121,107)" opacity="0.55"/>
<ellipse cx="1012.2" cy="836.2" rx="17.0" ry="15.5" fill="rgb(121,115,101)" opacity="0.55"/>
<ellipse cx="1073.9" cy="818.7" rx="10.0" ry="18.0" fill="rgb(121,115,101)" opacity="0.55"/>
<ellipse cx="878.3" cy="887.2" rx="20.0" ry="20.3" fill="rgb(109,103,89)" opacity="0.55"/>
<ellipse cx="849" cy="944.9" rx="11.5" ry="15.5" fill="rgb(118,112,98)" opacity="0.55"/>
<ellipse cx="948.1" cy="935.0" rx="18.2" ry="19.5" fill="rgb(118,112,98)" opacity="0.55"/>
<ellipse cx="1009" cy="915.4" rx="13.0" ry="13.5" fill="rgb(121,115,101)" opacity="0.55"/>
<ellipse cx="1063.4" cy="906.7" rx="15.5" ry="20.3" fill="rgb(109,103,89)" opacity="0.55"/>
<ellipse cx="1005" cy="959.3" rx="12.0" ry="8.0" fill="rgb(118,112,98)" opacity="0.55"/>
<ellipse cx="1055.2" cy="955.2" rx="9.0" ry="9.0" fill="rgb(121,115,101)" opacity="0.55"/>
<ellipse cx="838" cy="881.4" rx="4.0" ry="9.0" fill="rgb(130,124,110)" opacity="0.55"/>
<ellipse cx="915" cy="955.6" rx="6.0" ry="4.0" fill="rgb(130,124,110)" opacity="0.55"/>
</g>
</g>
<clipPath id="cb1"><rect x="1098.9" y="778.2" width="260.9" height="194.3"/></clipPath>
<g clip-path="url(#cb1)">
<rect x="1098.9" y="778.2" width="260.9" height="194.3" fill="#65686f" stroke="none" stroke-width="0" />
<g filter="url(#fb2)">
<ellipse cx="1126.8" cy="786.5" rx="20.8" ry="10.8" fill="#d8d8d4" stroke="#4a4c50" stroke-width="1.3" stroke-opacity="0.75"/>
<ellipse cx="1192.6" cy="806.9" rx="29.8" ry="27.8" fill="#d8d8d4" stroke="#4a4c50" stroke-width="1.3" stroke-opacity="0.75"/>
<ellipse cx="1324.9" cy="798" rx="35.8" ry="21.8" fill="#d8d8d4" stroke="#4a4c50" stroke-width="1.3" stroke-opacity="0.75"/>
<ellipse cx="1130.9" cy="829.6" rx="13.8" ry="14.8" fill="#d8d8d4" stroke="#4a4c50" stroke-width="1.3" stroke-opacity="0.75"/>
<ellipse cx="1152.8" cy="840" rx="13.8" ry="14.8" fill="#d8d8d4" stroke="#4a4c50" stroke-width="1.3" stroke-opacity="0.75"/>
<ellipse cx="1179.6" cy="848.3" rx="15.8" ry="16.8" fill="#d8d8d4" stroke="#4a4c50" stroke-width="1.3" stroke-opacity="0.75"/>
<ellipse cx="1224.2" cy="832" rx="13.8" ry="13.8" fill="#d8d8d4" stroke="#4a4c50" stroke-width="1.3" stroke-opacity="0.75"/>
<ellipse cx="1251.8" cy="838.6" rx="16.8" ry="16.8" fill="#d8d8d4" stroke="#4a4c50" stroke-width="1.3" stroke-opacity="0.75"/>
<ellipse cx="1297.3" cy="835.3" rx="28.400000000000002" ry="27.6" fill="#d8d8d4" stroke="#4a4c50" stroke-width="1.3" stroke-opacity="0.75"/>
<ellipse cx="1209.6" cy="856.4" rx="13.8" ry="13.8" fill="#d8d8d4" stroke="#4a4c50" stroke-width="1.3" stroke-opacity="0.75"/>
<ellipse cx="1229" cy="861.3" rx="11.8" ry="13.8" fill="#d8d8d4" stroke="#4a4c50" stroke-width="1.3" stroke-opacity="0.75"/>
<ellipse cx="1148" cy="866.2" rx="20.8" ry="17.8" fill="#d8d8d4" stroke="#4a4c50" stroke-width="1.3" stroke-opacity="0.75"/>
<ellipse cx="1270.5" cy="877.5" rx="26.8" ry="23.8" fill="#d8d8d4" stroke="#4a4c50" stroke-width="1.3" stroke-opacity="0.75"/>
<ellipse cx="1346" cy="858" rx="14.8" ry="19.8" fill="#d8d8d4" stroke="#4a4c50" stroke-width="1.3" stroke-opacity="0.75"/>
<ellipse cx="1322.5" cy="880.8" rx="15.8" ry="19.8" fill="#d8d8d4" stroke="#4a4c50" stroke-width="1.3" stroke-opacity="0.75"/>
<ellipse cx="1109.8" cy="893.7" rx="15.8" ry="24.8" fill="#d8d8d4" stroke="#4a4c50" stroke-width="1.3" stroke-opacity="0.75"/>
<ellipse cx="1156" cy="888" rx="15.8" ry="12.8" fill="#d8d8d4" stroke="#4a4c50" stroke-width="1.3" stroke-opacity="0.75"/>
<ellipse cx="1187.7" cy="901.9" rx="20.8" ry="20.8" fill="#d8d8d4" stroke="#4a4c50" stroke-width="1.3" stroke-opacity="0.75"/>
<ellipse cx="1236.4" cy="915.7" rx="32.4" ry="29.2" fill="#d8d8d4" stroke="#4a4c50" stroke-width="1.3" stroke-opacity="0.75"/>
<ellipse cx="1283.5" cy="947.3" rx="31.8" ry="26.8" fill="#d8d8d4" stroke="#4a4c50" stroke-width="1.3" stroke-opacity="0.75"/>
<ellipse cx="1337.9" cy="944" rx="22.8" ry="29.2" fill="#d8d8d4" stroke="#4a4c50" stroke-width="1.3" stroke-opacity="0.75"/>
<ellipse cx="1116.3" cy="954.6" rx="18.8" ry="18.8" fill="#d8d8d4" stroke="#4a4c50" stroke-width="1.3" stroke-opacity="0.75"/>
<ellipse cx="1188.5" cy="957" rx="16.8" ry="15.8" fill="#d8d8d4" stroke="#4a4c50" stroke-width="1.3" stroke-opacity="0.75"/>
<ellipse cx="1234.8" cy="968" rx="22.8" ry="8.8" fill="#d8d8d4" stroke="#4a4c50" stroke-width="1.3" stroke-opacity="0.75"/>
</g>
<g filter="url(#grain)">
<g filter="url(#fb2)">
<ellipse cx="1126.8" cy="786.5" rx="18.4" ry="8.4" fill="rgb(169,162,150)"/>
<ellipse cx="1192.6" cy="806.9" rx="27.4" ry="25.4" fill="rgb(167,160,148)"/>
<ellipse cx="1324.9" cy="798" rx="33.4" ry="19.4" fill="rgb(164,157,145)"/>
<ellipse cx="1130.9" cy="829.6" rx="11.4" ry="12.4" fill="rgb(170,163,151)"/>
<ellipse cx="1152.8" cy="840" rx="11.4" ry="12.4" fill="rgb(170,163,151)"/>
<ellipse cx="1179.6" cy="848.3" rx="13.4" ry="14.4" fill="rgb(169,162,150)"/>
<ellipse cx="1224.2" cy="832" rx="11.4" ry="11.4" fill="rgb(169,162,150)"/>
<ellipse cx="1251.8" cy="838.6" rx="14.4" ry="14.4" fill="rgb(168,161,149)"/>
<ellipse cx="1297.3" cy="835.3" rx="26.0" ry="25.2" fill="rgb(164,157,145)"/>
<ellipse cx="1209.6" cy="856.4" rx="11.4" ry="11.4" fill="rgb(169,162,150)"/>
<ellipse cx="1229" cy="861.3" rx="9.4" ry="11.4" fill="rgb(169,162,150)"/>
<ellipse cx="1148" cy="866.2" rx="18.4" ry="15.4" fill="rgb(169,162,150)"/>
<ellipse cx="1270.5" cy="877.5" rx="24.4" ry="21.4" fill="rgb(167,160,148)"/>
<ellipse cx="1346" cy="858" rx="12.4" ry="17.4" fill="rgb(170,163,151)"/>
<ellipse cx="1322.5" cy="880.8" rx="13.4" ry="17.4" fill="rgb(170,163,151)"/>
<ellipse cx="1109.8" cy="893.7" rx="13.4" ry="22.4" fill="rgb(168,161,149)"/>
<ellipse cx="1156" cy="888" rx="13.4" ry="10.4" fill="rgb(170,163,151)"/>
<ellipse cx="1187.7" cy="901.9" rx="18.4" ry="18.4" fill="rgb(168,161,149)"/>
<ellipse cx="1236.4" cy="915.7" rx="30.0" ry="26.8" fill="rgb(166,159,147)"/>
<ellipse cx="1283.5" cy="947.3" rx="29.4" ry="24.4" fill="rgb(164,157,145)"/>
<ellipse cx="1337.9" cy="944" rx="20.4" ry="26.8" fill="rgb(164,157,145)"/>
<ellipse cx="1116.3" cy="954.6" rx="16.4" ry="16.4" fill="rgb(169,162,150)"/>
<ellipse cx="1188.5" cy="957" rx="14.4" ry="13.4" fill="rgb(170,163,151)"/>
<ellipse cx="1234.8" cy="968" rx="20.4" ry="6.4" fill="rgb(169,162,150)"/>
</g>
</g>
<g filter="url(#fb)">
<ellipse cx="1126.8" cy="787.3" rx="10.0" ry="5.0" fill="rgb(139,133,119)" opacity="0.55"/>
<ellipse cx="1192.6" cy="809.1" rx="14.5" ry="13.5" fill="rgb(133,127,113)" opacity="0.55"/>
<ellipse cx="1324.9" cy="799.7" rx="17.5" ry="10.5" fill="rgb(127,121,107)" opacity="0.55"/>
<ellipse cx="1130.9" cy="830.7" rx="6.5" ry="7.0" fill="rgb(142,136,122)" opacity="0.55"/>
<ellipse cx="1152.8" cy="841.1" rx="6.5" ry="7.0" fill="rgb(142,136,122)" opacity="0.55"/>
<ellipse cx="1179.6" cy="849.6" rx="7.5" ry="8.0" fill="rgb(139,133,119)" opacity="0.55"/>
<ellipse cx="1224.2" cy="833.0" rx="6.5" ry="6.5" fill="rgb(139,133,119)" opacity="0.55"/>
<ellipse cx="1251.8" cy="839.9" rx="8.0" ry="8.0" fill="rgb(136,130,116)" opacity="0.55"/>
<ellipse cx="1297.3" cy="837.4" rx="13.8" ry="13.4" fill="rgb(127,121,107)" opacity="0.55"/>
<ellipse cx="1209.6" cy="857.4" rx="6.5" ry="6.5" fill="rgb(139,133,119)" opacity="0.55"/>
<ellipse cx="1229" cy="862.3" rx="5.5" ry="6.5" fill="rgb(139,133,119)" opacity="0.55"/>
<ellipse cx="1148" cy="867.6" rx="10.0" ry="8.5" fill="rgb(139,133,119)" opacity="0.55"/>
<ellipse cx="1270.5" cy="879.3" rx="13.0" ry="11.5" fill="rgb(133,127,113)" opacity="0.55"/>
<ellipse cx="1346" cy="859.5" rx="7.0" ry="9.5" fill="rgb(142,136,122)" opacity="0.55"/>
<ellipse cx="1322.5" cy="882.3" rx="7.5" ry="9.5" fill="rgb(142,136,122)" opacity="0.55"/>
<ellipse cx="1109.8" cy="895.6" rx="7.5" ry="12.0" fill="rgb(136,130,116)" opacity="0.55"/>
<ellipse cx="1156" cy="889.0" rx="7.5" ry="6.0" fill="rgb(142,136,122)" opacity="0.55"/>
<ellipse cx="1187.7" cy="903.5" rx="10.0" ry="10.0" fill="rgb(136,130,116)" opacity="0.55"/>
<ellipse cx="1236.4" cy="918.0" rx="15.8" ry="14.2" fill="rgb(130,124,110)" opacity="0.55"/>
<ellipse cx="1283.5" cy="949.4" rx="15.5" ry="13.0" fill="rgb(127,121,107)" opacity="0.55"/>
<ellipse cx="1337.9" cy="946.3" rx="11.0" ry="14.2" fill="rgb(127,121,107)" opacity="0.55"/>
<ellipse cx="1116.3" cy="956.0" rx="9.0" ry="9.0" fill="rgb(139,133,119)" opacity="0.55"/>
<ellipse cx="1188.5" cy="958.2" rx="8.0" ry="7.5" fill="rgb(142,136,122)" opacity="0.55"/>
<ellipse cx="1234.8" cy="968.6" rx="11.0" ry="4.0" fill="rgb(139,133,119)" opacity="0.55"/>
</g>
</g>
<clipPath id="cb2"><rect x="1366.2" y="778.2" width="257.3" height="192.8"/></clipPath>
<g clip-path="url(#cb2)">
<rect x="1366.2" y="778.2" width="257.3" height="192.8" fill="#999ba1" stroke="none" stroke-width="0" />
<g filter="url(#fb2)">
<ellipse cx="1424.7" cy="796.4" rx="41.4" ry="23.5" fill="#d8d8d4" stroke="#4a4c50" stroke-width="1.3" stroke-opacity="0.75"/>
<ellipse cx="1490.4" cy="814.2" rx="31.6" ry="29.2" fill="#d8d8d4" stroke="#4a4c50" stroke-width="1.3" stroke-opacity="0.75"/>
<ellipse cx="1555.4" cy="834.5" rx="39.8" ry="38.099999999999994" fill="#d8d8d4" stroke="#4a4c50" stroke-width="1.3" stroke-opacity="0.75"/>
<ellipse cx="1615.4" cy="808.5" rx="9.8" ry="17.8" fill="#d8d8d4" stroke="#4a4c50" stroke-width="1.3" stroke-opacity="0.75"/>
<ellipse cx="1397" cy="874.3" rx="32.4" ry="35.8" fill="#d8d8d4" stroke="#4a4c50" stroke-width="1.3" stroke-opacity="0.75"/>
<ellipse cx="1450.7" cy="882.4" rx="21.8" ry="13.8" fill="#d8d8d4" stroke="#4a4c50" stroke-width="1.3" stroke-opacity="0.75"/>
<ellipse cx="1501.8" cy="898.6" rx="37.3" ry="31.6" fill="#d8d8d4" stroke="#4a4c50" stroke-width="1.3" stroke-opacity="0.75"/>
<ellipse cx="1580.5" cy="909.2" rx="43.8" ry="41.4" fill="#d8d8d4" stroke="#4a4c50" stroke-width="1.3" stroke-opacity="0.75"/>
<ellipse cx="1373.5" cy="902.7" rx="8.8" ry="11.8" fill="#d8d8d4" stroke="#4a4c50" stroke-width="1.3" stroke-opacity="0.75"/>
<ellipse cx="1428" cy="949" rx="16.8" ry="20.8" fill="#d8d8d4" stroke="#4a4c50" stroke-width="1.3" stroke-opacity="0.75"/>
<ellipse cx="1502.6" cy="950.6" rx="26.8" ry="20.8" fill="#d8d8d4" stroke="#4a4c50" stroke-width="1.3" stroke-opacity="0.75"/>
<ellipse cx="1564.3" cy="962" rx="19.8" ry="11.8" fill="#d8d8d4" stroke="#4a4c50" stroke-width="1.3" stroke-opacity="0.75"/>
<ellipse cx="1609.7" cy="962" rx="14.8" ry="11.8" fill="#d8d8d4" stroke="#4a4c50" stroke-width="1.3" stroke-opacity="0.75"/>
</g>
<g filter="url(#grain)">
<g filter="url(#fb2)">
<ellipse cx="1424.7" cy="796.4" rx="39.0" ry="21.1" fill="rgb(159,152,140)"/>
<ellipse cx="1490.4" cy="814.2" rx="29.2" ry="26.8" fill="rgb(160,153,141)"/>
<ellipse cx="1555.4" cy="834.5" rx="37.4" ry="35.7" fill="rgb(157,150,138)"/>
<ellipse cx="1615.4" cy="808.5" rx="7.4" ry="15.4" fill="rgb(163,156,144)"/>
<ellipse cx="1397" cy="874.3" rx="30.0" ry="33.4" fill="rgb(157,150,138)"/>
<ellipse cx="1450.7" cy="882.4" rx="19.4" ry="11.4" fill="rgb(163,156,144)"/>
<ellipse cx="1501.8" cy="898.6" rx="34.9" ry="29.2" fill="rgb(159,152,140)"/>
<ellipse cx="1580.5" cy="909.2" rx="41.4" ry="39.0" fill="rgb(155,148,136)"/>
<ellipse cx="1373.5" cy="902.7" rx="6.4" ry="9.4" fill="rgb(163,156,144)"/>
<ellipse cx="1428" cy="949" rx="14.4" ry="18.4" fill="rgb(163,156,144)"/>
<ellipse cx="1502.6" cy="950.6" rx="24.4" ry="18.4" fill="rgb(159,152,140)"/>
<ellipse cx="1564.3" cy="962" rx="17.4" ry="9.4" fill="rgb(161,154,142)"/>
<ellipse cx="1609.7" cy="962" rx="12.4" ry="9.4" fill="rgb(161,154,142)"/>
</g>
</g>
<g filter="url(#fb)">
<ellipse cx="1424.7" cy="798.2" rx="20.3" ry="11.3" fill="rgb(123,117,103)" opacity="0.55"/>
<ellipse cx="1490.4" cy="816.5" rx="15.4" ry="14.2" fill="rgb(126,120,106)" opacity="0.55"/>
<ellipse cx="1555.4" cy="837.5" rx="19.5" ry="18.6" fill="rgb(120,114,100)" opacity="0.55"/>
<ellipse cx="1615.4" cy="809.9" rx="4.5" ry="8.5" fill="rgb(135,129,115)" opacity="0.55"/>
<ellipse cx="1397" cy="877.1" rx="15.8" ry="17.5" fill="rgb(120,114,100)" opacity="0.55"/>
<ellipse cx="1450.7" cy="883.4" rx="10.5" ry="6.5" fill="rgb(135,129,115)" opacity="0.55"/>
<ellipse cx="1501.8" cy="901.1" rx="18.2" ry="15.4" fill="rgb(123,117,103)" opacity="0.55"/>
<ellipse cx="1580.5" cy="912.4" rx="21.5" ry="20.3" fill="rgb(114,108,94)" opacity="0.55"/>
<ellipse cx="1373.5" cy="903.6" rx="4.0" ry="5.5" fill="rgb(135,129,115)" opacity="0.55"/>
<ellipse cx="1428" cy="950.6" rx="8.0" ry="10.0" fill="rgb(135,129,115)" opacity="0.55"/>
<ellipse cx="1502.6" cy="952.2" rx="13.0" ry="10.0" fill="rgb(123,117,103)" opacity="0.55"/>
<ellipse cx="1564.3" cy="962.9" rx="9.5" ry="5.5" fill="rgb(129,123,109)" opacity="0.55"/>
<ellipse cx="1609.7" cy="962.9" rx="7.0" ry="5.5" fill="rgb(129,123,109)" opacity="0.55"/>
</g>
</g>
<line x1="1575.7" y1="961.6" x2="1617.0" y2="961.6" stroke="#fff" stroke-width="2.6" />
<rect x="815.0" y="982.8" width="821.0" height="258.4" fill="#f0f0f0" stroke="none" stroke-width="0" />
<rect x="859.4" y="986.3" width="223.1" height="221.6" fill="#fff" stroke="#777" stroke-width="1.3" />
<polygon points="907.4,1207.9 909.4,1189.0 910.7,1171.5 913.3,1158.8 916.2,1155.9 918.5,1146.2 921.0,1140.3 924.0,1139.4 925.9,1132.6 928.8,1130.6 930.8,1125.8 933.7,1118.0 935.6,1115.1 937.6,1109.2 939.1,1095.6 940.5,1089.8 943.4,1087.8 945.0,1068.4 947.3,1052.8 949.2,1043.1 951.2,1033.4 953.1,1025.6 954.5,1020.1 956.0,1022.7 957.4,1029.5 959.0,1028.5 960.5,1039.2 961.9,1048.9 962.9,1062.5 964.4,1058.6 965.8,1063.5 967.1,1076.2 968.3,1089.8 969.7,1099.5 971.0,1115.1 972.6,1130.6 973.6,1144.2 975.1,1157.9 976.9,1169.5 978.4,1177.3 980.4,1185.1 982.7,1192.9 985.2,1198.7 988.1,1204.5 991.1,1206.9 994.0,1207.9" fill="#80ff80"/>
<line x1="859.4" y1="985.8" x2="859.4" y2="1208.9" stroke="#111" stroke-width="1.8" />
<line x1="858.4" y1="1207.9" x2="1082.5" y2="1207.9" stroke="#111" stroke-width="1.8" />
<line x1="852.4" y1="1207.9" x2="859.4" y2="1207.9" stroke="#222" stroke-width="1.1" />
<line x1="855.9" y1="1196.8" x2="859.4" y2="1196.8" stroke="#222" stroke-width="1.1" />
<line x1="855.9" y1="1185.7" x2="859.4" y2="1185.7" stroke="#222" stroke-width="1.1" />
<line x1="855.9" y1="1174.7" x2="859.4" y2="1174.7" stroke="#222" stroke-width="1.1" />
<line x1="855.9" y1="1163.6" x2="859.4" y2="1163.6" stroke="#222" stroke-width="1.1" />
<line x1="852.4" y1="1152.5" x2="859.4" y2="1152.5" stroke="#222" stroke-width="1.1" />
<line x1="855.9" y1="1141.4" x2="859.4" y2="1141.4" stroke="#222" stroke-width="1.1" />
<line x1="855.9" y1="1130.3" x2="859.4" y2="1130.3" stroke="#222" stroke-width="1.1" />
<line x1="855.9" y1="1119.3" x2="859.4" y2="1119.3" stroke="#222" stroke-width="1.1" />
<line x1="855.9" y1="1108.2" x2="859.4" y2="1108.2" stroke="#222" stroke-width="1.1" />
<line x1="852.4" y1="1097.1" x2="859.4" y2="1097.1" stroke="#222" stroke-width="1.1" />
<line x1="855.9" y1="1086.0" x2="859.4" y2="1086.0" stroke="#222" stroke-width="1.1" />
<line x1="855.9" y1="1074.9" x2="859.4" y2="1074.9" stroke="#222" stroke-width="1.1" />
<line x1="855.9" y1="1063.9" x2="859.4" y2="1063.9" stroke="#222" stroke-width="1.1" />
<line x1="855.9" y1="1052.8" x2="859.4" y2="1052.8" stroke="#222" stroke-width="1.1" />
<line x1="852.4" y1="1041.7" x2="859.4" y2="1041.7" stroke="#222" stroke-width="1.1" />
<line x1="855.9" y1="1030.6" x2="859.4" y2="1030.6" stroke="#222" stroke-width="1.1" />
<line x1="855.9" y1="1019.5" x2="859.4" y2="1019.5" stroke="#222" stroke-width="1.1" />
<line x1="855.9" y1="1008.5" x2="859.4" y2="1008.5" stroke="#222" stroke-width="1.1" />
<line x1="855.9" y1="997.4" x2="859.4" y2="997.4" stroke="#222" stroke-width="1.1" />
<line x1="852.4" y1="986.3" x2="859.4" y2="986.3" stroke="#222" stroke-width="1.1" />
<text x="850.0" y="1214.5" font-size="19.6" text-anchor="end" font-weight="normal" font-style="normal" fill="#111" >0</text>
<text x="850.0" y="1159.1" font-size="19.6" text-anchor="end" font-weight="normal" font-style="normal" fill="#111" >50</text>
<text x="850.0" y="1103.7" font-size="19.6" text-anchor="end" font-weight="normal" font-style="normal" fill="#111" >100</text>
<text x="850.0" y="1048.3" font-size="19.6" text-anchor="end" font-weight="normal" font-style="normal" fill="#111" >150</text>
<text x="850.0" y="998.7" font-size="19.6" text-anchor="end" font-weight="normal" font-style="normal" fill="#111" >200</text>
<line x1="881.4" y1="1207.9" x2="881.4" y2="1214.4" stroke="#222" stroke-width="1.3" />
<line x1="905.4" y1="1207.9" x2="905.4" y2="1214.4" stroke="#222" stroke-width="1.3" />
<line x1="959.4" y1="1207.9" x2="959.4" y2="1214.4" stroke="#222" stroke-width="1.3" />
<line x1="1011.2" y1="1207.9" x2="1011.2" y2="1214.4" stroke="#222" stroke-width="1.3" />
<line x1="1061.6" y1="1207.9" x2="1061.6" y2="1214.4" stroke="#222" stroke-width="1.3" />
<line x1="921.7" y1="1207.9" x2="921.7" y2="1211.4" stroke="#333" stroke-width="1" />
<line x1="931.2" y1="1207.9" x2="931.2" y2="1211.4" stroke="#333" stroke-width="1" />
<line x1="937.9" y1="1207.9" x2="937.9" y2="1211.4" stroke="#333" stroke-width="1" />
<line x1="943.1" y1="1207.9" x2="943.1" y2="1211.4" stroke="#333" stroke-width="1" />
<line x1="947.4" y1="1207.9" x2="947.4" y2="1211.4" stroke="#333" stroke-width="1" />
<line x1="951.0" y1="1207.9" x2="951.0" y2="1211.4" stroke="#333" stroke-width="1" />
<line x1="954.2" y1="1207.9" x2="954.2" y2="1211.4" stroke="#333" stroke-width="1" />
<line x1="956.9" y1="1207.9" x2="956.9" y2="1211.4" stroke="#333" stroke-width="1" />
<line x1="975.0" y1="1207.9" x2="975.0" y2="1211.4" stroke="#333" stroke-width="1" />
<line x1="984.1" y1="1207.9" x2="984.1" y2="1211.4" stroke="#333" stroke-width="1" />
<line x1="990.6" y1="1207.9" x2="990.6" y2="1211.4" stroke="#333" stroke-width="1" />
<line x1="995.6" y1="1207.9" x2="995.6" y2="1211.4" stroke="#333" stroke-width="1" />
<line x1="999.7" y1="1207.9" x2="999.7" y2="1211.4" stroke="#333" stroke-width="1" />
<line x1="1003.2" y1="1207.9" x2="1003.2" y2="1211.4" stroke="#333" stroke-width="1" />
<line x1="1006.2" y1="1207.9" x2="1006.2" y2="1211.4" stroke="#333" stroke-width="1" />
<line x1="1008.8" y1="1207.9" x2="1008.8" y2="1211.4" stroke="#333" stroke-width="1" />
<line x1="1026.4" y1="1207.9" x2="1026.4" y2="1211.4" stroke="#333" stroke-width="1" />
<line x1="1035.2" y1="1207.9" x2="1035.2" y2="1211.4" stroke="#333" stroke-width="1" />
<line x1="1041.5" y1="1207.9" x2="1041.5" y2="1211.4" stroke="#333" stroke-width="1" />
<line x1="1046.4" y1="1207.9" x2="1046.4" y2="1211.4" stroke="#333" stroke-width="1" />
<line x1="1050.4" y1="1207.9" x2="1050.4" y2="1211.4" stroke="#333" stroke-width="1" />
<line x1="1053.8" y1="1207.9" x2="1053.8" y2="1211.4" stroke="#333" stroke-width="1" />
<line x1="1056.7" y1="1207.9" x2="1056.7" y2="1211.4" stroke="#333" stroke-width="1" />
<line x1="1059.3" y1="1207.9" x2="1059.3" y2="1211.4" stroke="#333" stroke-width="1" />
<line x1="863.1" y1="1207.9" x2="863.1" y2="1211.4" stroke="#333" stroke-width="1" />
<line x1="866.7" y1="1207.9" x2="866.7" y2="1211.4" stroke="#333" stroke-width="1" />
<line x1="870.4" y1="1207.9" x2="870.4" y2="1211.4" stroke="#333" stroke-width="1" />
<line x1="874.1" y1="1207.9" x2="874.1" y2="1211.4" stroke="#333" stroke-width="1" />
<line x1="877.7" y1="1207.9" x2="877.7" y2="1211.4" stroke="#333" stroke-width="1" />
<line x1="885.4" y1="1207.9" x2="885.4" y2="1211.4" stroke="#333" stroke-width="1" />
<line x1="889.4" y1="1207.9" x2="889.4" y2="1211.4" stroke="#333" stroke-width="1" />
<line x1="893.4" y1="1207.9" x2="893.4" y2="1211.4" stroke="#333" stroke-width="1" />
<line x1="897.4" y1="1207.9" x2="897.4" y2="1211.4" stroke="#333" stroke-width="1" />
<line x1="901.4" y1="1207.9" x2="901.4" y2="1211.4" stroke="#333" stroke-width="1" />
<line x1="1078.5" y1="1207.9" x2="1078.5" y2="1211.4" stroke="#333" stroke-width="1" />
<text x="874.3" y="1238.0" font-size="18.5" text-anchor="start" font-weight="normal" font-style="normal" fill="#111" >0</text>
<text x="896.5" y="1238.0" font-size="18.5" text-anchor="start" font-weight="normal" font-style="normal" fill="#111" >10</text>
<text x="918.5" y="1224.5" font-size="13" text-anchor="start" font-weight="normal" font-style="normal" fill="#111" >2</text>
<text x="946.3" y="1238.0" font-size="18.5" text-anchor="start" font-weight="normal" font-style="normal" fill="#111" >10</text>
<text x="968.3" y="1224.5" font-size="13" text-anchor="start" font-weight="normal" font-style="normal" fill="#111" >3</text>
<text x="995.9" y="1238.0" font-size="18.5" text-anchor="start" font-weight="normal" font-style="normal" fill="#111" >10</text>
<text x="1017.9" y="1224.5" font-size="13" text-anchor="start" font-weight="normal" font-style="normal" fill="#111" >4</text>
<text x="1045.5" y="1238.0" font-size="18.5" text-anchor="start" font-weight="normal" font-style="normal" fill="#111" >10</text>
<text x="1067.5" y="1224.5" font-size="13" text-anchor="start" font-weight="normal" font-style="normal" fill="#111" >5</text>
<text x="922.8" y="1014.9" font-size="25.3" text-anchor="start" font-weight="normal" font-style="normal" fill="#111" >69.53±2.29%</text>
<rect x="1130.6" y="986.3" width="223.7" height="221.6" fill="#fff" stroke="#777" stroke-width="1.3" />
<polygon points="1178.2,1207.9 1180.2,1198.7 1181.5,1179.3 1183.1,1163.7 1185.0,1155.9 1188.0,1154.9 1190.9,1155.9 1193.2,1157.9 1194.8,1153.0 1196.7,1148.1 1198.3,1151.0 1200.0,1153.0 1202.2,1146.2 1205.5,1142.3 1208.4,1138.4 1209.9,1130.6 1212.3,1122.8 1214.2,1118.0 1216.2,1113.1 1217.7,1109.2 1219.1,1099.5 1220.4,1087.8 1222.0,1075.2 1223.6,1075.2 1224.9,1084.9 1226.3,1080.0 1227.8,1068.4 1229.4,1062.5 1230.8,1060.0 1232.1,1064.5 1233.7,1078.1 1235.6,1085.9 1237.2,1095.6 1238.5,1107.3 1240.1,1120.9 1241.5,1130.6 1243.4,1140.3 1245.0,1152.0 1246.5,1163.7 1248.3,1175.4 1250.2,1185.1 1253.1,1194.8 1256.0,1200.7 1259.0,1204.5 1262.9,1207.9" fill="#80ff80"/>
<line x1="1130.6" y1="985.8" x2="1130.6" y2="1208.9" stroke="#111" stroke-width="1.8" />
<line x1="1129.6" y1="1207.9" x2="1354.3" y2="1207.9" stroke="#111" stroke-width="1.8" />
<line x1="1123.6" y1="1207.9" x2="1130.6" y2="1207.9" stroke="#222" stroke-width="1.1" />
<line x1="1127.1" y1="1196.8" x2="1130.6" y2="1196.8" stroke="#222" stroke-width="1.1" />
<line x1="1127.1" y1="1185.7" x2="1130.6" y2="1185.7" stroke="#222" stroke-width="1.1" />
<line x1="1127.1" y1="1174.7" x2="1130.6" y2="1174.7" stroke="#222" stroke-width="1.1" />
<line x1="1127.1" y1="1163.6" x2="1130.6" y2="1163.6" stroke="#222" stroke-width="1.1" />
<line x1="1123.6" y1="1152.5" x2="1130.6" y2="1152.5" stroke="#222" stroke-width="1.1" />
<line x1="1127.1" y1="1141.4" x2="1130.6" y2="1141.4" stroke="#222" stroke-width="1.1" />
<line x1="1127.1" y1="1130.3" x2="1130.6" y2="1130.3" stroke="#222" stroke-width="1.1" />
<line x1="1127.1" y1="1119.3" x2="1130.6" y2="1119.3" stroke="#222" stroke-width="1.1" />
<line x1="1127.1" y1="1108.2" x2="1130.6" y2="1108.2" stroke="#222" stroke-width="1.1" />
<line x1="1123.6" y1="1097.1" x2="1130.6" y2="1097.1" stroke="#222" stroke-width="1.1" />
<line x1="1127.1" y1="1086.0" x2="1130.6" y2="1086.0" stroke="#222" stroke-width="1.1" />
<line x1="1127.1" y1="1074.9" x2="1130.6" y2="1074.9" stroke="#222" stroke-width="1.1" />
<line x1="1127.1" y1="1063.9" x2="1130.6" y2="1063.9" stroke="#222" stroke-width="1.1" />
<line x1="1127.1" y1="1052.8" x2="1130.6" y2="1052.8" stroke="#222" stroke-width="1.1" />
<line x1="1123.6" y1="1041.7" x2="1130.6" y2="1041.7" stroke="#222" stroke-width="1.1" />
<line x1="1127.1" y1="1030.6" x2="1130.6" y2="1030.6" stroke="#222" stroke-width="1.1" />
<line x1="1127.1" y1="1019.5" x2="1130.6" y2="1019.5" stroke="#222" stroke-width="1.1" />
<line x1="1127.1" y1="1008.5" x2="1130.6" y2="1008.5" stroke="#222" stroke-width="1.1" />
<line x1="1127.1" y1="997.4" x2="1130.6" y2="997.4" stroke="#222" stroke-width="1.1" />
<line x1="1123.6" y1="986.3" x2="1130.6" y2="986.3" stroke="#222" stroke-width="1.1" />
<text x="1121.0" y="1214.5" font-size="19.6" text-anchor="end" font-weight="normal" font-style="normal" fill="#111" >0</text>
<text x="1121.0" y="1159.1" font-size="19.6" text-anchor="end" font-weight="normal" font-style="normal" fill="#111" >50</text>
<text x="1121.0" y="1103.7" font-size="19.6" text-anchor="end" font-weight="normal" font-style="normal" fill="#111" >100</text>
<text x="1121.0" y="1048.3" font-size="19.6" text-anchor="end" font-weight="normal" font-style="normal" fill="#111" >150</text>
<text x="1121.0" y="998.7" font-size="19.6" text-anchor="end" font-weight="normal" font-style="normal" fill="#111" >200</text>
<line x1="1153.0" y1="1207.9" x2="1153.0" y2="1214.4" stroke="#222" stroke-width="1.3" />
<line x1="1176.7" y1="1207.9" x2="1176.7" y2="1214.4" stroke="#222" stroke-width="1.3" />
<line x1="1230.4" y1="1207.9" x2="1230.4" y2="1214.4" stroke="#222" stroke-width="1.3" />
<line x1="1282.7" y1="1207.9" x2="1282.7" y2="1214.4" stroke="#222" stroke-width="1.3" />
<line x1="1332.9" y1="1207.9" x2="1332.9" y2="1214.4" stroke="#222" stroke-width="1.3" />
<line x1="1192.9" y1="1207.9" x2="1192.9" y2="1211.4" stroke="#333" stroke-width="1" />
<line x1="1202.3" y1="1207.9" x2="1202.3" y2="1211.4" stroke="#333" stroke-width="1" />
<line x1="1209.0" y1="1207.9" x2="1209.0" y2="1211.4" stroke="#333" stroke-width="1" />
<line x1="1214.2" y1="1207.9" x2="1214.2" y2="1211.4" stroke="#333" stroke-width="1" />
<line x1="1218.5" y1="1207.9" x2="1218.5" y2="1211.4" stroke="#333" stroke-width="1" />
<line x1="1222.1" y1="1207.9" x2="1222.1" y2="1211.4" stroke="#333" stroke-width="1" />
<line x1="1225.2" y1="1207.9" x2="1225.2" y2="1211.4" stroke="#333" stroke-width="1" />
<line x1="1227.9" y1="1207.9" x2="1227.9" y2="1211.4" stroke="#333" stroke-width="1" />
<line x1="1246.1" y1="1207.9" x2="1246.1" y2="1211.4" stroke="#333" stroke-width="1" />
<line x1="1255.4" y1="1207.9" x2="1255.4" y2="1211.4" stroke="#333" stroke-width="1" />
<line x1="1261.9" y1="1207.9" x2="1261.9" y2="1211.4" stroke="#333" stroke-width="1" />
<line x1="1267.0" y1="1207.9" x2="1267.0" y2="1211.4" stroke="#333" stroke-width="1" />
<line x1="1271.1" y1="1207.9" x2="1271.1" y2="1211.4" stroke="#333" stroke-width="1" />
<line x1="1274.6" y1="1207.9" x2="1274.6" y2="1211.4" stroke="#333" stroke-width="1" />
<line x1="1277.6" y1="1207.9" x2="1277.6" y2="1211.4" stroke="#333" stroke-width="1" />
<line x1="1280.3" y1="1207.9" x2="1280.3" y2="1211.4" stroke="#333" stroke-width="1" />
<line x1="1297.8" y1="1207.9" x2="1297.8" y2="1211.4" stroke="#333" stroke-width="1" />
<line x1="1306.7" y1="1207.9" x2="1306.7" y2="1211.4" stroke="#333" stroke-width="1" />
<line x1="1312.9" y1="1207.9" x2="1312.9" y2="1211.4" stroke="#333" stroke-width="1" />
<line x1="1317.8" y1="1207.9" x2="1317.8" y2="1211.4" stroke="#333" stroke-width="1" />
<line x1="1321.8" y1="1207.9" x2="1321.8" y2="1211.4" stroke="#333" stroke-width="1" />
<line x1="1325.1" y1="1207.9" x2="1325.1" y2="1211.4" stroke="#333" stroke-width="1" />
<line x1="1328.0" y1="1207.9" x2="1328.0" y2="1211.4" stroke="#333" stroke-width="1" />
<line x1="1330.6" y1="1207.9" x2="1330.6" y2="1211.4" stroke="#333" stroke-width="1" />
<line x1="1134.3" y1="1207.9" x2="1134.3" y2="1211.4" stroke="#333" stroke-width="1" />
<line x1="1138.1" y1="1207.9" x2="1138.1" y2="1211.4" stroke="#333" stroke-width="1" />
<line x1="1141.8" y1="1207.9" x2="1141.8" y2="1211.4" stroke="#333" stroke-width="1" />
<line x1="1145.5" y1="1207.9" x2="1145.5" y2="1211.4" stroke="#333" stroke-width="1" />
<line x1="1149.3" y1="1207.9" x2="1149.3" y2="1211.4" stroke="#333" stroke-width="1" />
<line x1="1157.0" y1="1207.9" x2="1157.0" y2="1211.4" stroke="#333" stroke-width="1" />
<line x1="1160.9" y1="1207.9" x2="1160.9" y2="1211.4" stroke="#333" stroke-width="1" />
<line x1="1164.8" y1="1207.9" x2="1164.8" y2="1211.4" stroke="#333" stroke-width="1" />
<line x1="1168.8" y1="1207.9" x2="1168.8" y2="1211.4" stroke="#333" stroke-width="1" />
<line x1="1172.8" y1="1207.9" x2="1172.8" y2="1211.4" stroke="#333" stroke-width="1" />
<line x1="1350.3" y1="1207.9" x2="1350.3" y2="1211.4" stroke="#333" stroke-width="1" />
<text x="1146.3" y="1238.0" font-size="18.5" text-anchor="start" font-weight="normal" font-style="normal" fill="#111" >0</text>
<text x="1171.5" y="1238.0" font-size="18.5" text-anchor="start" font-weight="normal" font-style="normal" fill="#111" >10</text>
<text x="1193.5" y="1224.5" font-size="13" text-anchor="start" font-weight="normal" font-style="normal" fill="#111" >2</text>
<text x="1221.5" y="1238.0" font-size="18.5" text-anchor="start" font-weight="normal" font-style="normal" fill="#111" >10</text>
<text x="1243.5" y="1224.5" font-size="13" text-anchor="start" font-weight="normal" font-style="normal" fill="#111" >3</text>
<text x="1272.0" y="1238.0" font-size="18.5" text-anchor="start" font-weight="normal" font-style="normal" fill="#111" >10</text>
<text x="1294.0" y="1224.5" font-size="13" text-anchor="start" font-weight="normal" font-style="normal" fill="#111" >4</text>
<text x="1322.0" y="1238.0" font-size="18.5" text-anchor="start" font-weight="normal" font-style="normal" fill="#111" >10</text>
<text x="1344.0" y="1224.5" font-size="13" text-anchor="start" font-weight="normal" font-style="normal" fill="#111" >5</text>
<text x="1196.8" y="1014.9" font-size="25.3" text-anchor="start" font-weight="normal" font-style="normal" fill="#111" >54.85±4.82%</text>
<rect x="1405.7" y="985.7" width="224.3" height="221.8" fill="#fff" stroke="#777" stroke-width="1.3" />
<polygon points="1453.4,1207.5 1455.3,1198.7 1457.3,1185.1 1459.2,1169.5 1461.2,1155.9 1464.1,1151.0 1467.0,1146.2 1469.9,1141.3 1472.8,1140.3 1474.8,1142.3 1476.7,1130.6 1478.7,1120.9 1481.6,1118.0 1483.5,1115.1 1485.5,1101.4 1487.4,1091.7 1490.3,1085.9 1492.3,1072.3 1493.9,1054.8 1495.2,1047.0 1497.2,1039.2 1499.1,1035.3 1501.0,1031.4 1502.4,1021.7 1503.6,1014.9 1504.9,1024.6 1506.3,1033.4 1507.9,1032.4 1509.4,1037.2 1511.4,1047.0 1512.7,1062.5 1514.1,1082.0 1515.6,1095.6 1517.2,1111.2 1518.6,1122.8 1520.1,1138.4 1521.9,1154.0 1523.4,1163.7 1525.4,1173.4 1527.3,1183.1 1529.3,1190.9 1531.6,1198.7 1534.1,1204.5 1537.0,1207.1 1539.0,1207.5" fill="#80ff80"/>
<line x1="1405.7" y1="985.2" x2="1405.7" y2="1208.5" stroke="#111" stroke-width="1.8" />
<line x1="1404.7" y1="1207.5" x2="1630.0" y2="1207.5" stroke="#111" stroke-width="1.8" />
<line x1="1398.7" y1="1207.5" x2="1405.7" y2="1207.5" stroke="#222" stroke-width="1.1" />
<line x1="1402.2" y1="1196.4" x2="1405.7" y2="1196.4" stroke="#222" stroke-width="1.1" />
<line x1="1402.2" y1="1185.3" x2="1405.7" y2="1185.3" stroke="#222" stroke-width="1.1" />
<line x1="1402.2" y1="1174.2" x2="1405.7" y2="1174.2" stroke="#222" stroke-width="1.1" />
<line x1="1402.2" y1="1163.1" x2="1405.7" y2="1163.1" stroke="#222" stroke-width="1.1" />
<line x1="1398.7" y1="1152.0" x2="1405.7" y2="1152.0" stroke="#222" stroke-width="1.1" />
<line x1="1402.2" y1="1141.0" x2="1405.7" y2="1141.0" stroke="#222" stroke-width="1.1" />
<line x1="1402.2" y1="1129.9" x2="1405.7" y2="1129.9" stroke="#222" stroke-width="1.1" />
<line x1="1402.2" y1="1118.8" x2="1405.7" y2="1118.8" stroke="#222" stroke-width="1.1" />
<line x1="1402.2" y1="1107.7" x2="1405.7" y2="1107.7" stroke="#222" stroke-width="1.1" />
<line x1="1398.7" y1="1096.6" x2="1405.7" y2="1096.6" stroke="#222" stroke-width="1.1" />
<line x1="1402.2" y1="1085.5" x2="1405.7" y2="1085.5" stroke="#222" stroke-width="1.1" />
<line x1="1402.2" y1="1074.4" x2="1405.7" y2="1074.4" stroke="#222" stroke-width="1.1" />
<line x1="1402.2" y1="1063.3" x2="1405.7" y2="1063.3" stroke="#222" stroke-width="1.1" />
<line x1="1402.2" y1="1052.2" x2="1405.7" y2="1052.2" stroke="#222" stroke-width="1.1" />
<line x1="1398.7" y1="1041.2" x2="1405.7" y2="1041.2" stroke="#222" stroke-width="1.1" />
<line x1="1402.2" y1="1030.1" x2="1405.7" y2="1030.1" stroke="#222" stroke-width="1.1" />
<line x1="1402.2" y1="1019.0" x2="1405.7" y2="1019.0" stroke="#222" stroke-width="1.1" />
<line x1="1402.2" y1="1007.9" x2="1405.7" y2="1007.9" stroke="#222" stroke-width="1.1" />
<line x1="1402.2" y1="996.8" x2="1405.7" y2="996.8" stroke="#222" stroke-width="1.1" />
<line x1="1398.7" y1="985.7" x2="1405.7" y2="985.7" stroke="#222" stroke-width="1.1" />
<text x="1396.5" y="1214.1" font-size="19.6" text-anchor="end" font-weight="normal" font-style="normal" fill="#111" >0</text>
<text x="1396.5" y="1158.6" font-size="19.6" text-anchor="end" font-weight="normal" font-style="normal" fill="#111" >50</text>
<text x="1396.5" y="1103.2" font-size="19.6" text-anchor="end" font-weight="normal" font-style="normal" fill="#111" >100</text>
<text x="1396.5" y="1047.8" font-size="19.6" text-anchor="end" font-weight="normal" font-style="normal" fill="#111" >150</text>
<text x="1396.5" y="998.1" font-size="19.6" text-anchor="end" font-weight="normal" font-style="normal" fill="#111" >200</text>
<line x1="1429.5" y1="1207.5" x2="1429.5" y2="1214.0" stroke="#222" stroke-width="1.3" />
<line x1="1474.4" y1="1207.5" x2="1474.4" y2="1214.0" stroke="#222" stroke-width="1.3" />
<line x1="1519.2" y1="1207.5" x2="1519.2" y2="1214.0" stroke="#222" stroke-width="1.3" />
<line x1="1563.9" y1="1207.5" x2="1563.9" y2="1214.0" stroke="#222" stroke-width="1.3" />
<line x1="1608.6" y1="1207.5" x2="1608.6" y2="1214.0" stroke="#222" stroke-width="1.3" />
<line x1="1487.9" y1="1207.5" x2="1487.9" y2="1211.0" stroke="#333" stroke-width="1" />
<line x1="1495.8" y1="1207.5" x2="1495.8" y2="1211.0" stroke="#333" stroke-width="1" />
<line x1="1501.4" y1="1207.5" x2="1501.4" y2="1211.0" stroke="#333" stroke-width="1" />
<line x1="1505.7" y1="1207.5" x2="1505.7" y2="1211.0" stroke="#333" stroke-width="1" />
<line x1="1509.3" y1="1207.5" x2="1509.3" y2="1211.0" stroke="#333" stroke-width="1" />
<line x1="1512.3" y1="1207.5" x2="1512.3" y2="1211.0" stroke="#333" stroke-width="1" />
<line x1="1514.9" y1="1207.5" x2="1514.9" y2="1211.0" stroke="#333" stroke-width="1" />
<line x1="1517.2" y1="1207.5" x2="1517.2" y2="1211.0" stroke="#333" stroke-width="1" />
<line x1="1532.7" y1="1207.5" x2="1532.7" y2="1211.0" stroke="#333" stroke-width="1" />
<line x1="1540.5" y1="1207.5" x2="1540.5" y2="1211.0" stroke="#333" stroke-width="1" />
<line x1="1546.1" y1="1207.5" x2="1546.1" y2="1211.0" stroke="#333" stroke-width="1" />
<line x1="1550.4" y1="1207.5" x2="1550.4" y2="1211.0" stroke="#333" stroke-width="1" />
<line x1="1554.0" y1="1207.5" x2="1554.0" y2="1211.0" stroke="#333" stroke-width="1" />
<line x1="1557.0" y1="1207.5" x2="1557.0" y2="1211.0" stroke="#333" stroke-width="1" />
<line x1="1559.6" y1="1207.5" x2="1559.6" y2="1211.0" stroke="#333" stroke-width="1" />
<line x1="1561.9" y1="1207.5" x2="1561.9" y2="1211.0" stroke="#333" stroke-width="1" />
<line x1="1577.4" y1="1207.5" x2="1577.4" y2="1211.0" stroke="#333" stroke-width="1" />
<line x1="1585.2" y1="1207.5" x2="1585.2" y2="1211.0" stroke="#333" stroke-width="1" />
<line x1="1590.8" y1="1207.5" x2="1590.8" y2="1211.0" stroke="#333" stroke-width="1" />
<line x1="1595.1" y1="1207.5" x2="1595.1" y2="1211.0" stroke="#333" stroke-width="1" />
<line x1="1598.7" y1="1207.5" x2="1598.7" y2="1211.0" stroke="#333" stroke-width="1" />
<line x1="1601.7" y1="1207.5" x2="1601.7" y2="1211.0" stroke="#333" stroke-width="1" />
<line x1="1604.3" y1="1207.5" x2="1604.3" y2="1211.0" stroke="#333" stroke-width="1" />
<line x1="1606.6" y1="1207.5" x2="1606.6" y2="1211.0" stroke="#333" stroke-width="1" />
<line x1="1409.7" y1="1207.5" x2="1409.7" y2="1211.0" stroke="#333" stroke-width="1" />
<line x1="1413.6" y1="1207.5" x2="1413.6" y2="1211.0" stroke="#333" stroke-width="1" />
<line x1="1417.6" y1="1207.5" x2="1417.6" y2="1211.0" stroke="#333" stroke-width="1" />
<line x1="1421.6" y1="1207.5" x2="1421.6" y2="1211.0" stroke="#333" stroke-width="1" />
<line x1="1425.5" y1="1207.5" x2="1425.5" y2="1211.0" stroke="#333" stroke-width="1" />
<line x1="1437.0" y1="1207.5" x2="1437.0" y2="1211.0" stroke="#333" stroke-width="1" />
<line x1="1444.5" y1="1207.5" x2="1444.5" y2="1211.0" stroke="#333" stroke-width="1" />
<line x1="1452.0" y1="1207.5" x2="1452.0" y2="1211.0" stroke="#333" stroke-width="1" />
<line x1="1459.4" y1="1207.5" x2="1459.4" y2="1211.0" stroke="#333" stroke-width="1" />
<line x1="1466.9" y1="1207.5" x2="1466.9" y2="1211.0" stroke="#333" stroke-width="1" />
<line x1="1626.0" y1="1207.5" x2="1626.0" y2="1211.0" stroke="#333" stroke-width="1" />
<text x="1417.3" y="1238.0" font-size="18.5" text-anchor="start" font-weight="normal" font-style="normal" fill="#111" >0</text>
<text x="1445.1" y="1238.0" font-size="18.5" text-anchor="start" font-weight="normal" font-style="normal" fill="#111" >10</text>
<text x="1467.1" y="1224.5" font-size="13" text-anchor="start" font-weight="normal" font-style="normal" fill="#111" >2</text>
<text x="1488.5" y="1238.0" font-size="18.5" text-anchor="start" font-weight="normal" font-style="normal" fill="#111" >10</text>
<text x="1510.5" y="1224.5" font-size="13" text-anchor="start" font-weight="normal" font-style="normal" fill="#111" >3</text>
<text x="1544.5" y="1238.0" font-size="18.5" text-anchor="start" font-weight="normal" font-style="normal" fill="#111" >10</text>
<text x="1566.5" y="1224.5" font-size="13" text-anchor="start" font-weight="normal" font-style="normal" fill="#111" >4</text>
<text x="1599.0" y="1238.0" font-size="18.5" text-anchor="start" font-weight="normal" font-style="normal" fill="#111" >10</text>
<text x="1621.0" y="1224.5" font-size="13" text-anchor="start" font-weight="normal" font-style="normal" fill="#111" >5</text>
<text x="1474.3" y="1014.9" font-size="25.3" text-anchor="start" font-weight="normal" font-style="normal" fill="#111" >67.44±3.23%</text>
<text transform="translate(810.2,1105.8) rotate(-90)" font-size="28.2" text-anchor="middle">Cell count</text>
<line x1="819.9" y1="1255.0" x2="870.5" y2="1255.0" stroke="#000" stroke-width="2.3" />
<text x="873.0" y="1264.9" font-size="27.5" text-anchor="start" font-weight="normal" font-style="normal" fill="#000" >GFP</text>
<text x="-0.8" y="1064.5" font-size="40.5" text-anchor="start" font-weight="normal" font-style="normal" fill="#000" >E</text>
<rect x="114.5" y="1156.4" width="77.8" height="349.5" fill="#fff" stroke="#000" stroke-width="6.0" />
<rect x="232.1" y="1229.8" width="79.7" height="276.1" fill="#000" stroke="#000" stroke-width="6.0" />
<rect x="353.0" y="1166.8" width="77.3" height="339.1" fill="#d3d3d3" stroke="#000" stroke-width="6.0" />
<line x1="152.9" y1="1144.6" x2="152.9" y2="1156.6" stroke="#000" stroke-width="5.6" />
<line x1="130.0" y1="1144.6" x2="175.8" y2="1144.6" stroke="#000" stroke-width="6.3" />
<line x1="272.5" y1="1205.4" x2="272.5" y2="1230.0" stroke="#000" stroke-width="5.6" />
<line x1="249.6" y1="1205.4" x2="295.4" y2="1205.4" stroke="#000" stroke-width="6.3" />
<line x1="391.5" y1="1150.4" x2="391.5" y2="1167.0" stroke="#000" stroke-width="5.6" />
<line x1="368.6" y1="1150.4" x2="414.4" y2="1150.4" stroke="#000" stroke-width="6.3" />
<line x1="93.4" y1="1100.5" x2="93.4" y2="1509.9" stroke="#000" stroke-width="4.5" />
<line x1="91.4" y1="1507.9" x2="450.4" y2="1507.9" stroke="#000" stroke-width="4.5" />
<line x1="83.0" y1="1507.9" x2="93.4" y2="1507.9" stroke="#000" stroke-width="4.5" />
<text x="81.5" y="1517.9" font-size="29.5" text-anchor="end" font-weight="normal" font-style="normal" fill="#000" >0</text>
<line x1="83.0" y1="1406.5" x2="93.4" y2="1406.5" stroke="#000" stroke-width="4.5" />
<text x="81.5" y="1416.5" font-size="29.5" text-anchor="end" font-weight="normal" font-style="normal" fill="#000" >20</text>
<line x1="83.0" y1="1305.1" x2="93.4" y2="1305.1" stroke="#000" stroke-width="4.5" />
<text x="81.5" y="1315.1" font-size="29.5" text-anchor="end" font-weight="normal" font-style="normal" fill="#000" >40</text>
<line x1="83.0" y1="1203.7" x2="93.4" y2="1203.7" stroke="#000" stroke-width="4.5" />
<text x="81.5" y="1213.7" font-size="29.5" text-anchor="end" font-weight="normal" font-style="normal" fill="#000" >60</text>
<line x1="83.0" y1="1102.3" x2="93.4" y2="1102.3" stroke="#000" stroke-width="4.5" />
<text x="81.5" y="1112.3" font-size="29.5" text-anchor="end" font-weight="normal" font-style="normal" fill="#000" >80</text>
<line x1="152.7" y1="1507.9" x2="152.7" y2="1521.0" stroke="#000" stroke-width="4.5" />
<line x1="271.7" y1="1507.9" x2="271.7" y2="1521.0" stroke="#000" stroke-width="4.5" />
<line x1="391.2" y1="1507.9" x2="391.2" y2="1521.0" stroke="#000" stroke-width="4.5" />
<text x="256.5" y="1207.3" font-size="35" text-anchor="start" font-weight="normal" font-style="normal" fill="#000" letter-spacing="2.2" stroke="#000" stroke-width="0.7">**</text>
<text x="385.5" y="1137.8" font-size="22.5" text-anchor="start" font-weight="bold" font-style="normal" fill="#000" >#</text>
<rect x="446.3" y="1096.4" width="35.3" height="19.2" fill="#fff" stroke="#000" stroke-width="4" />
<rect x="444.3" y="1128.5" width="39.3" height="22.8" fill="#000" stroke="none" stroke-width="0" />
<rect x="446.3" y="1164.7" width="35.3" height="18.7" fill="#808080" stroke="#000" stroke-width="4" />
<text x="489.4" y="1112.0" font-size="28.3" text-anchor="start" font-weight="normal" font-style="normal" fill="#000" >Ctrl</text>
<text x="489.4" y="1148.5" font-size="28.3" text-anchor="start" font-weight="normal" font-style="normal" fill="#000" >Sevoflurane</text>
<text x="489.4" y="1184.5" font-size="28.3" text-anchor="start" font-weight="normal" font-style="normal" fill="#000" >Sevoflurane+Rik-203</text>
<text transform="translate(32.2,1309.9) rotate(-90)" font-size="28.3" text-anchor="middle">Sox1 positive cells (%)</text>
<text x="-0.8" y="1571.3" font-size="40.5" text-anchor="start" font-weight="normal" font-style="normal" fill="#000" >F</text>
<rect x="115.4" y="1711.8" width="76.1" height="267.0" fill="#fff" stroke="#000" stroke-width="6.0" />
<rect x="229.7" y="1844.0" width="77.0" height="134.8" fill="#000" stroke="#000" stroke-width="6.0" />
<rect x="345.0" y="1705.4" width="76.0" height="273.4" fill="#a0a0a6" stroke="#000" stroke-width="6.0" />
<rect x="460.2" y="1711.8" width="76.1" height="267.0" fill="#fff" stroke="#000" stroke-width="6.0" />
<rect x="574.5" y="1836.8" width="76.6" height="142.0" fill="#000" stroke="#000" stroke-width="6.0" />
<rect x="689.3" y="1698.6" width="77.0" height="280.2" fill="#a0a0a6" stroke="#000" stroke-width="6.0" />
<line x1="268.2" y1="1814.5" x2="268.2" y2="1844.2" stroke="#000" stroke-width="5.6" />
<line x1="245.4" y1="1814.5" x2="291.0" y2="1814.5" stroke="#000" stroke-width="6.3" />
<line x1="382.3" y1="1694.4" x2="382.3" y2="1705.6" stroke="#000" stroke-width="5.6" />
<line x1="359.5" y1="1694.4" x2="405.1" y2="1694.4" stroke="#000" stroke-width="6.3" />
<line x1="612.8" y1="1827.6" x2="612.8" y2="1837.0" stroke="#000" stroke-width="5.6" />
<line x1="590.0" y1="1827.6" x2="635.6" y2="1827.6" stroke="#000" stroke-width="6.3" />
<line x1="728.3" y1="1662.8" x2="728.3" y2="1698.8" stroke="#000" stroke-width="5.6" />
<line x1="705.5" y1="1662.8" x2="751.1" y2="1662.8" stroke="#000" stroke-width="6.3" />
<line x1="94.8" y1="1575.0" x2="94.8" y2="1982.8" stroke="#000" stroke-width="4.5" />
<line x1="92.8" y1="1980.8" x2="787.0" y2="1980.8" stroke="#000" stroke-width="4.5" />
<line x1="81.7" y1="1980.8" x2="94.8" y2="1980.8" stroke="#000" stroke-width="4.5" />
<line x1="81.7" y1="1846.1" x2="94.8" y2="1846.1" stroke="#000" stroke-width="4.5" />
<line x1="81.7" y1="1711.5" x2="94.8" y2="1711.5" stroke="#000" stroke-width="4.5" />
<line x1="81.7" y1="1576.8" x2="94.8" y2="1576.8" stroke="#000" stroke-width="4.5" />
<text x="80.5" y="1587.4" font-size="27.5" text-anchor="end" font-weight="normal" font-style="normal" fill="#000" >1.5</text>
<text x="80.5" y="1722.0" font-size="27.5" text-anchor="end" font-weight="normal" font-style="normal" fill="#000" >1.0</text>
<text x="80.5" y="1855.8" font-size="27.5" text-anchor="end" font-weight="normal" font-style="normal" fill="#000" >0.5</text>
<text x="80.5" y="1989.6" font-size="27.5" text-anchor="end" font-weight="normal" font-style="normal" fill="#000" >0.0</text>
<line x1="153.2" y1="1980.8" x2="153.2" y2="1994.5" stroke="#000" stroke-width="4.5" />
<line x1="267.5" y1="1980.8" x2="267.5" y2="1994.5" stroke="#000" stroke-width="4.5" />
<line x1="383.2" y1="1980.8" x2="383.2" y2="1994.5" stroke="#000" stroke-width="4.5" />
<line x1="498.5" y1="1980.8" x2="498.5" y2="1994.5" stroke="#000" stroke-width="4.5" />
<line x1="612.8" y1="1980.8" x2="612.8" y2="1994.5" stroke="#000" stroke-width="4.5" />
<line x1="728.0" y1="1980.8" x2="728.0" y2="1994.5" stroke="#000" stroke-width="4.5" />
<text x="237.3" y="2017.5" font-size="28" text-anchor="start" font-weight="normal" font-style="normal" fill="#000" >Sox1</text>
<text x="581.0" y="2017.5" font-size="28" text-anchor="start" font-weight="normal" font-style="normal" fill="#000" >Nestin</text>
<text x="261.9" y="1816.8" font-size="35" text-anchor="start" font-weight="normal" font-style="normal" fill="#000" stroke="#000" stroke-width="0.7">*</text>
<text x="369.5" y="1684.8" font-size="23.5" text-anchor="start" font-weight="bold" font-style="normal" fill="#000" ># #</text>
<text x="591.6" y="1828.0" font-size="35" text-anchor="start" font-weight="normal" font-style="normal" fill="#000" letter-spacing="2.2" stroke="#000" stroke-width="0.7">***</text>
<text x="715.3" y="1652.4" font-size="23.5" text-anchor="start" font-weight="bold" font-style="normal" fill="#000" ># #</text>
<rect x="112.9" y="1570.0" width="34.9" height="18.8" fill="#fff" stroke="#000" stroke-width="4" />
<rect x="110.9" y="1602.0" width="38.9" height="22.8" fill="#000" stroke="none" stroke-width="0" />
<rect x="112.9" y="1636.6" width="34.9" height="20.3" fill="#96969b" stroke="#000" stroke-width="4" />
<text x="164.0" y="1586.0" font-size="28.2" text-anchor="start" font-weight="normal" font-style="normal" fill="#000" >Ctrl</text>
<text x="164.0" y="1622.4" font-size="28.2" text-anchor="start" font-weight="normal" font-style="normal" fill="#000" >Sevoflurane</text>
<text x="164.0" y="1655.5" font-size="28.2" text-anchor="start" font-weight="normal" font-style="normal" fill="#000" >Sevoflurane+Rik-203</text>
<text transform="translate(31.8,1783) rotate(-90)" font-size="28" text-anchor="middle">mRNA level of NPC markers</text>
<text x="716.6" y="1338.0" font-size="40.5" text-anchor="start" font-weight="normal" font-style="normal" fill="#000" >G</text>
<text x="815.5" y="1333.2" font-size="31" text-anchor="start" font-weight="normal" font-style="normal" fill="#000" >Downregulation of genes</text>
<text x="751.8" y="1380.3" font-size="28.2" text-anchor="start" font-weight="normal" font-style="normal" fill="#000" >Rik-203 knockdown</text>
<text x="1034.5" y="1378.1" font-size="28.4" text-anchor="start" font-weight="normal" font-style="normal" fill="#000" >Sevoflurane</text>
<defs><clipPath id="vc1"><circle cx="922.6" cy="1546.9" r="125"/></clipPath><clipPath id="vc2"><circle cx="1393.5" cy="1557.6" r="155.5"/></clipPath></defs>
<circle cx="922.6" cy="1546.9" r="125" fill="#d3d8f0"/>
<circle cx="1045.4" cy="1560" r="160" fill="#f6efd8"/>
<circle cx="1045.4" cy="1560" r="160" fill="#d8d5cc" clip-path="url(#vc1)"/>
<circle cx="922.6" cy="1546.9" r="125" fill="none" stroke="#555" stroke-width="1.1"/>
<circle cx="1045.4" cy="1560" r="160" fill="none" stroke="#555" stroke-width="1.1"/>
<line x1="917.3" y1="1396.4" x2="876.9" y2="1508.8" stroke="#000" stroke-width="2.2" />
<line x1="1115.8" y1="1394.0" x2="1145.9" y2="1510.4" stroke="#000" stroke-width="2.2" />
<text x="797.3" y="1548.4" font-size="28.5" text-anchor="start" font-weight="normal" font-style="normal" fill="#000" >1667</text>
<text x="797.0" y="1581.8" font-size="28.5" text-anchor="start" font-weight="normal" font-style="normal" fill="#000" >(19.7%)</text>
<text x="930.5" y="1548.4" font-size="28.5" text-anchor="start" font-weight="normal" font-style="normal" fill="#000" >2490</text>
<text x="930.7" y="1581.8" font-size="28.5" text-anchor="start" font-weight="normal" font-style="normal" fill="#000" >(29.4%)</text>
<text x="1105.5" y="1548.4" font-size="28.5" text-anchor="start" font-weight="normal" font-style="normal" fill="#000" >4324</text>
<text x="1105.0" y="1581.8" font-size="28.5" text-anchor="start" font-weight="normal" font-style="normal" fill="#000" >(51%)</text>
<text x="1297.6" y="1330.1" font-size="31" text-anchor="start" font-weight="normal" font-style="normal" fill="#000" >Upregulation of genes</text>
<text x="1213.9" y="1380.5" font-size="28.2" text-anchor="start" font-weight="normal" font-style="normal" fill="#000" >Rik-203 knockdown</text>
<text x="1485.3" y="1381.9" font-size="28.4" text-anchor="start" font-weight="normal" font-style="normal" fill="#000" >Sevoflurane</text>
<circle cx="1495.6" cy="1574.5" r="107" fill="#f6efd8"/>
<circle cx="1393.5" cy="1557.6" r="155.5" fill="#d3d8f0"/>
<circle cx="1495.6" cy="1574.5" r="107" fill="#c9cbd3" clip-path="url(#vc2)"/>
<circle cx="1393.5" cy="1557.6" r="155.5" fill="none" stroke="#555" stroke-width="1.1"/>
<circle cx="1495.6" cy="1574.5" r="107" fill="none" stroke="#555" stroke-width="1.1"/>
<line x1="1314.2" y1="1396.0" x2="1272.7" y2="1509.0" stroke="#000" stroke-width="2.2" />
<line x1="1515.8" y1="1400.2" x2="1565.0" y2="1507.7" stroke="#000" stroke-width="2.2" />
<text x="1255.1" y="1548.6" font-size="28.5" text-anchor="start" font-weight="normal" font-style="normal" fill="#000" >4889</text>
<text x="1254.0" y="1581.0" font-size="28.5" text-anchor="start" font-weight="normal" font-style="normal" fill="#000" >(58.1%)</text>
<text x="1418.0" y="1548.6" font-size="28.5" text-anchor="start" font-weight="normal" font-style="normal" fill="#000" >2572</text>
<text x="1418.0" y="1581.0" font-size="28.5" text-anchor="start" font-weight="normal" font-style="normal" fill="#000" >(30.6%)</text>
<text x="1547.5" y="1544.2" font-size="28.5" text-anchor="start" font-weight="normal" font-style="normal" fill="#000" >955</text>
<text x="1547.2" y="1576.9" font-size="28.5" text-anchor="start" font-weight="normal" font-style="normal" fill="#000" >(11.3%)</text>
</svg>
</body></html>
